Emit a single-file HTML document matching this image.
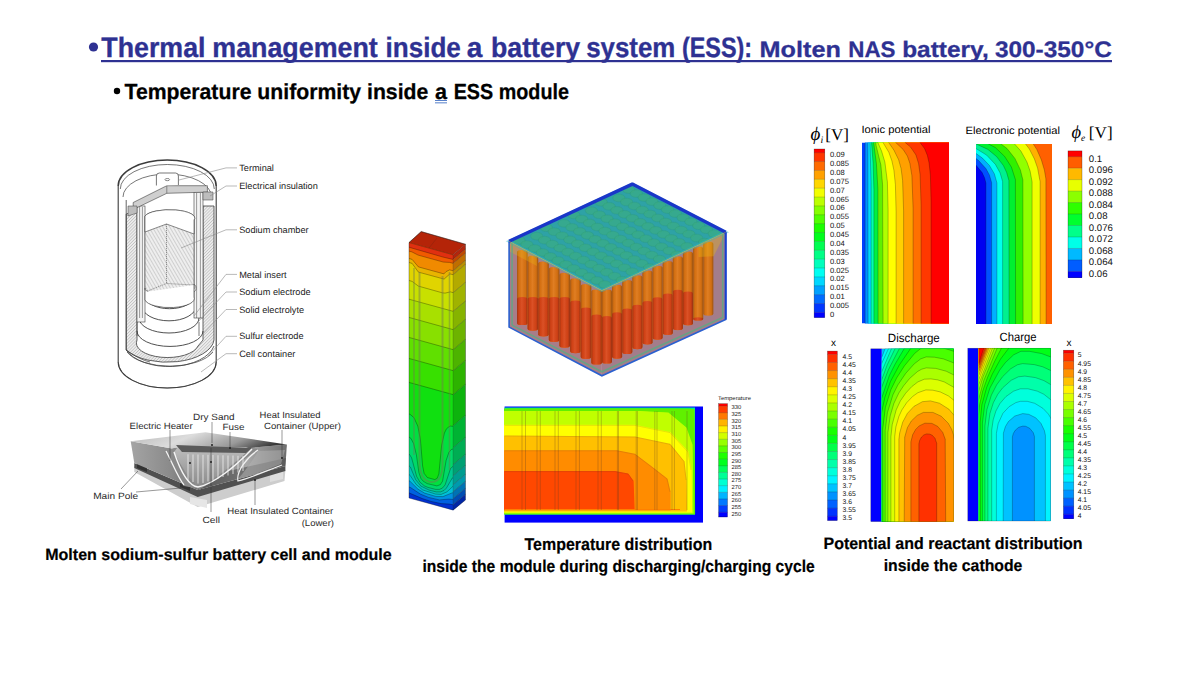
<!DOCTYPE html>
<html><head><meta charset="utf-8"><style>
html,body{margin:0;padding:0;background:#fff;overflow:hidden}
svg{display:block}
text{text-rendering:geometricPrecision}
</style></head><body>
<svg width="1181" height="690" viewBox="0 0 1181 690">
<rect width="1181" height="690" fill="#fff"/>
<circle cx="93.5" cy="47" r="4.6" fill="#2e3192"/>
<text x="101.3" y="56.8" font-family="Liberation Sans" font-size="28" font-weight="bold" font-style="normal" fill="#2e3192" text-anchor="start" textLength="104.19999999999999" lengthAdjust="spacingAndGlyphs"  stroke="#2e3192" stroke-width="0.34">Thermal</text>
<text x="212.29999999999998" y="56.8" font-family="Liberation Sans" font-size="28" font-weight="bold" font-style="normal" fill="#2e3192" text-anchor="start" textLength="165.4" lengthAdjust="spacingAndGlyphs"  stroke="#2e3192" stroke-width="0.34">management</text>
<text x="385.59999999999997" y="56.8" font-family="Liberation Sans" font-size="28" font-weight="bold" font-style="normal" fill="#2e3192" text-anchor="start" textLength="75.19999999999999" lengthAdjust="spacingAndGlyphs"  stroke="#2e3192" stroke-width="0.34">inside</text>
<text x="466.8" y="56.8" font-family="Liberation Sans" font-size="28" font-weight="bold" font-style="normal" fill="#2e3192" text-anchor="start" textLength="15.6" lengthAdjust="spacingAndGlyphs"  stroke="#2e3192" stroke-width="0.34">a</text>
<text x="491.0" y="56.8" font-family="Liberation Sans" font-size="28" font-weight="bold" font-style="normal" fill="#2e3192" text-anchor="start" textLength="89.19999999999999" lengthAdjust="spacingAndGlyphs"  stroke="#2e3192" stroke-width="0.34">battery</text>
<text x="586.2" y="56.8" font-family="Liberation Sans" font-size="28" font-weight="bold" font-style="normal" fill="#2e3192" text-anchor="start" textLength="89.19999999999999" lengthAdjust="spacingAndGlyphs"  stroke="#2e3192" stroke-width="0.34">system</text>
<text x="681.9000000000001" y="56.8" font-family="Liberation Sans" font-size="28" font-weight="bold" font-style="normal" fill="#2e3192" text-anchor="start" textLength="70.19999999999999" lengthAdjust="spacingAndGlyphs"  stroke="#2e3192" stroke-width="0.34">(ESS):</text>
<text x="759.5" y="56.8" font-family="Liberation Sans" font-size="22.4" font-weight="bold" font-style="normal" fill="#2e3192" text-anchor="start" textLength="81.4" lengthAdjust="spacingAndGlyphs"  stroke="#2e3192" stroke-width="0.27">Molten</text>
<text x="848.3" y="56.8" font-family="Liberation Sans" font-size="22.4" font-weight="bold" font-style="normal" fill="#2e3192" text-anchor="start" textLength="47.199999999999996" lengthAdjust="spacingAndGlyphs"  stroke="#2e3192" stroke-width="0.27">NAS</text>
<text x="902.1999999999999" y="56.8" font-family="Liberation Sans" font-size="22.4" font-weight="bold" font-style="normal" fill="#2e3192" text-anchor="start" textLength="86.5" lengthAdjust="spacingAndGlyphs"  stroke="#2e3192" stroke-width="0.27">battery,</text>
<text x="994.9" y="56.8" font-family="Liberation Sans" font-size="22.4" font-weight="bold" font-style="normal" fill="#2e3192" text-anchor="start" textLength="116.9" lengthAdjust="spacingAndGlyphs"  stroke="#2e3192" stroke-width="0.27">300-350°C</text>
<rect x="101" y="60" width="1011" height="2.2" fill="#2e3192"/>
<circle cx="117" cy="91" r="3.2" fill="#000"/>
<text x="124.5" y="98.7" font-family="Liberation Sans" font-size="21.8" font-weight="bold" font-style="normal" fill="#000" text-anchor="start" textLength="303.8" lengthAdjust="spacingAndGlyphs"  stroke="#000" stroke-width="0.26">Temperature uniformity inside</text>
<text x="435" y="98.7" font-family="Liberation Sans" font-size="21.8" font-weight="bold" font-style="normal" fill="#000" text-anchor="start" textLength="12" lengthAdjust="spacingAndGlyphs"  stroke="#000" stroke-width="0.26">a</text>
<text x="453.7" y="98.7" font-family="Liberation Sans" font-size="21.8" font-weight="bold" font-style="normal" fill="#000" text-anchor="start" textLength="115.3" lengthAdjust="spacingAndGlyphs"  stroke="#000" stroke-width="0.26">ESS module</text>
<rect x="435" y="100" width="12" height="0.9" fill="#4472c4"/><rect x="435" y="102.4" width="12" height="0.9" fill="#4472c4"/>
<text x="45.2" y="559.8" font-family="Liberation Sans" font-size="16.3" font-weight="bold" font-style="normal" fill="#000" text-anchor="start" textLength="346.5" lengthAdjust="spacingAndGlyphs"  stroke="#000" stroke-width="0.20">Molten sodium-sulfur battery cell and module</text>
<text x="524.5" y="549.6" font-family="Liberation Sans" font-size="17" font-weight="bold" font-style="normal" fill="#000" text-anchor="start" textLength="187.8" lengthAdjust="spacingAndGlyphs"  stroke="#000" stroke-width="0.20">Temperature distribution</text>
<text x="422.4" y="571.6" font-family="Liberation Sans" font-size="17" font-weight="bold" font-style="normal" fill="#000" text-anchor="start" textLength="392.3" lengthAdjust="spacingAndGlyphs"  stroke="#000" stroke-width="0.20">inside the module during discharging/charging cycle</text>
<text x="823.5" y="549.2" font-family="Liberation Sans" font-size="16.5" font-weight="bold" font-style="normal" fill="#000" text-anchor="start" textLength="259.1" lengthAdjust="spacingAndGlyphs"  stroke="#000" stroke-width="0.20">Potential and reactant distribution</text>
<text x="883.7" y="570.5" font-family="Liberation Sans" font-size="16.5" font-weight="bold" font-style="normal" fill="#000" text-anchor="start" textLength="138.7" lengthAdjust="spacingAndGlyphs"  stroke="#000" stroke-width="0.20">inside the cathode</text>
<rect x="814.1" y="149.00" width="10.7" height="3.90" fill="#ff0000"/>
<rect x="814.1" y="152.70" width="10.7" height="9.07" fill="#ff3600"/>
<rect x="814.1" y="161.57" width="10.7" height="9.07" fill="#ff6b00"/>
<rect x="814.1" y="170.44" width="10.7" height="9.07" fill="#ffa100"/>
<rect x="814.1" y="179.32" width="10.7" height="9.07" fill="#ffd700"/>
<rect x="814.1" y="188.19" width="10.7" height="9.07" fill="#f2ff00"/>
<rect x="814.1" y="197.06" width="10.7" height="9.07" fill="#bcff00"/>
<rect x="814.1" y="205.93" width="10.7" height="9.07" fill="#86ff00"/>
<rect x="814.1" y="214.81" width="10.7" height="9.07" fill="#51ff00"/>
<rect x="814.1" y="223.68" width="10.7" height="9.07" fill="#1bff00"/>
<rect x="814.1" y="232.55" width="10.7" height="9.07" fill="#00ff1b"/>
<rect x="814.1" y="241.42" width="10.7" height="9.07" fill="#00ff51"/>
<rect x="814.1" y="250.29" width="10.7" height="9.07" fill="#00ff86"/>
<rect x="814.1" y="259.17" width="10.7" height="9.07" fill="#00ffbc"/>
<rect x="814.1" y="268.04" width="10.7" height="9.07" fill="#00fff2"/>
<rect x="814.1" y="276.91" width="10.7" height="9.07" fill="#00d7ff"/>
<rect x="814.1" y="285.78" width="10.7" height="9.07" fill="#00a1ff"/>
<rect x="814.1" y="294.66" width="10.7" height="9.07" fill="#006bff"/>
<rect x="814.1" y="303.53" width="10.7" height="9.07" fill="#0036ff"/>
<rect x="814.1" y="312.40" width="10.7" height="5.30" fill="#0000ff"/>
<g stroke="#000" stroke-opacity="0.45" stroke-width="0.4"><line x1="814.1" x2="824.8000000000001" y1="152.70" y2="152.70"/><line x1="814.1" x2="824.8000000000001" y1="161.57" y2="161.57"/><line x1="814.1" x2="824.8000000000001" y1="170.44" y2="170.44"/><line x1="814.1" x2="824.8000000000001" y1="179.32" y2="179.32"/><line x1="814.1" x2="824.8000000000001" y1="188.19" y2="188.19"/><line x1="814.1" x2="824.8000000000001" y1="197.06" y2="197.06"/><line x1="814.1" x2="824.8000000000001" y1="205.93" y2="205.93"/><line x1="814.1" x2="824.8000000000001" y1="214.81" y2="214.81"/><line x1="814.1" x2="824.8000000000001" y1="223.68" y2="223.68"/><line x1="814.1" x2="824.8000000000001" y1="232.55" y2="232.55"/><line x1="814.1" x2="824.8000000000001" y1="241.42" y2="241.42"/><line x1="814.1" x2="824.8000000000001" y1="250.29" y2="250.29"/><line x1="814.1" x2="824.8000000000001" y1="259.17" y2="259.17"/><line x1="814.1" x2="824.8000000000001" y1="268.04" y2="268.04"/><line x1="814.1" x2="824.8000000000001" y1="276.91" y2="276.91"/><line x1="814.1" x2="824.8000000000001" y1="285.78" y2="285.78"/><line x1="814.1" x2="824.8000000000001" y1="294.66" y2="294.66"/><line x1="814.1" x2="824.8000000000001" y1="303.53" y2="303.53"/><line x1="814.1" x2="824.8000000000001" y1="312.40" y2="312.40"/></g>
<rect x="814.1" y="149" width="10.7" height="168.5" fill="none" stroke="#000" stroke-opacity="0.5" stroke-width="0.5"/>
<text x="830" y="157.24" font-family="Liberation Sans" font-size="7.6" font-weight="normal" font-style="normal" fill="#111" text-anchor="start" >0.09</text>
<text x="830" y="166.11" font-family="Liberation Sans" font-size="7.6" font-weight="normal" font-style="normal" fill="#111" text-anchor="start" >0.085</text>
<text x="830" y="174.98" font-family="Liberation Sans" font-size="7.6" font-weight="normal" font-style="normal" fill="#111" text-anchor="start" >0.08</text>
<text x="830" y="183.85" font-family="Liberation Sans" font-size="7.6" font-weight="normal" font-style="normal" fill="#111" text-anchor="start" >0.075</text>
<text x="830" y="192.72" font-family="Liberation Sans" font-size="7.6" font-weight="normal" font-style="normal" fill="#111" text-anchor="start" >0.07</text>
<text x="830" y="201.6" font-family="Liberation Sans" font-size="7.6" font-weight="normal" font-style="normal" fill="#111" text-anchor="start" >0.065</text>
<text x="830" y="210.47" font-family="Liberation Sans" font-size="7.6" font-weight="normal" font-style="normal" fill="#111" text-anchor="start" >0.06</text>
<text x="830" y="219.34" font-family="Liberation Sans" font-size="7.6" font-weight="normal" font-style="normal" fill="#111" text-anchor="start" >0.055</text>
<text x="830" y="228.21" font-family="Liberation Sans" font-size="7.6" font-weight="normal" font-style="normal" fill="#111" text-anchor="start" >0.05</text>
<text x="830" y="237.09" font-family="Liberation Sans" font-size="7.6" font-weight="normal" font-style="normal" fill="#111" text-anchor="start" >0.045</text>
<text x="830" y="245.96" font-family="Liberation Sans" font-size="7.6" font-weight="normal" font-style="normal" fill="#111" text-anchor="start" >0.04</text>
<text x="830" y="254.83" font-family="Liberation Sans" font-size="7.6" font-weight="normal" font-style="normal" fill="#111" text-anchor="start" >0.035</text>
<text x="830" y="263.7" font-family="Liberation Sans" font-size="7.6" font-weight="normal" font-style="normal" fill="#111" text-anchor="start" >0.03</text>
<text x="830" y="272.57" font-family="Liberation Sans" font-size="7.6" font-weight="normal" font-style="normal" fill="#111" text-anchor="start" >0.025</text>
<text x="830" y="281.45" font-family="Liberation Sans" font-size="7.6" font-weight="normal" font-style="normal" fill="#111" text-anchor="start" >0.02</text>
<text x="830" y="290.32" font-family="Liberation Sans" font-size="7.6" font-weight="normal" font-style="normal" fill="#111" text-anchor="start" >0.015</text>
<text x="830" y="299.19" font-family="Liberation Sans" font-size="7.6" font-weight="normal" font-style="normal" fill="#111" text-anchor="start" >0.01</text>
<text x="830" y="308.06" font-family="Liberation Sans" font-size="7.6" font-weight="normal" font-style="normal" fill="#111" text-anchor="start" >0.005</text>
<text x="830" y="316.94" font-family="Liberation Sans" font-size="7.6" font-weight="normal" font-style="normal" fill="#111" text-anchor="start" >0</text>
<text x="810.5" y="140" font-family="Liberation Serif" font-size="19" font-weight="normal" font-style="italic" fill="#000" text-anchor="start" >ϕ</text>
<text x="820.5" y="142.5" font-family="Liberation Serif" font-size="10" font-weight="normal" font-style="italic" fill="#000" text-anchor="start" >i</text>
<text x="825.3" y="140" font-family="Liberation Serif" font-size="16.5" font-weight="normal" font-style="normal" fill="#000" text-anchor="start" textLength="23.7" lengthAdjust="spacingAndGlyphs" >[V]</text>
<text x="861.5" y="133" font-family="Liberation Sans" font-size="10.5" font-weight="normal" font-style="normal" fill="#000" text-anchor="start" textLength="69" lengthAdjust="spacingAndGlyphs" >Ionic potential</text>
<clipPath id="cp1"><rect x="862" y="142.5" width="87" height="181"/></clipPath><g clip-path="url(#cp1)">
<rect x="862" y="142.5" width="87" height="181" fill="#0040ff"/>
<path d="M865.1,140.6 865.1,325.4 950.9,325.4 950.9,140.6Z" fill="#0090ff" fill-rule="evenodd"/>
<path d="M867.9,140.6 868.1,325.4 950.9,325.4 950.9,140.6Z" fill="#00d8ff" fill-rule="evenodd"/>
<path d="M869.9,140.6 871.1,182.4 871.1,325.4 950.9,325.4 950.9,140.6Z" fill="#00ffb0" fill-rule="evenodd"/>
<path d="M871.4,140.6 873.1,163.4 873.9,189.4 873.9,325.4 950.9,325.4 950.9,140.6Z" fill="#00f040" fill-rule="evenodd"/>
<path d="M873.4,140.6 876.4,163.6 877.9,188.9 878.1,325.4 950.9,325.4 950.9,140.6Z" fill="#60f000" fill-rule="evenodd"/>
<path d="M875.6,140.6 876.1,145.4 880.9,165.1 882.6,184.9 883.1,325.4 950.9,325.4 950.9,140.6Z" fill="#b0ff00" fill-rule="evenodd"/>
<path d="M877.9,140.6 877.9,142.6 881.6,151.1 884.9,162.1 887.4,181.9 888.1,209.4 888.1,325.4 950.9,325.4 950.9,140.6Z" fill="#ffff00" fill-rule="evenodd"/>
<path d="M883.1,140.6 883.1,142.6 888.9,152.4 891.9,160.9 893.9,170.1 895.4,184.6 896.1,211.9 896.1,325.4 950.9,325.4 950.9,140.6Z" fill="#ffd000" fill-rule="evenodd"/>
<path d="M888.6,140.6 888.6,142.4 893.9,150.1 898.6,159.6 901.1,168.6 902.6,180.4 903.6,210.9 903.6,325.4 950.9,325.4 950.9,140.6Z" fill="#ffa000" fill-rule="evenodd"/>
<path d="M895.6,140.6 895.6,142.4 903.1,149.4 907.4,156.1 909.9,163.4 911.9,175.6 913.1,208.6 913.1,325.4 950.9,325.4 950.9,140.6Z" fill="#ff7000" fill-rule="evenodd"/>
<path d="M905.1,140.6 905.1,142.4 910.6,147.1 915.9,154.9 918.6,163.6 920.1,174.6 921.1,205.1 921.1,325.4 950.9,325.4 950.9,140.6Z" fill="#ff3800" fill-rule="evenodd"/>
<path d="M920.1,140.6 920.1,142.6 924.6,148.6 927.4,155.4 929.1,163.1 930.4,175.1 931.1,202.1 931.1,325.4 950.9,325.4 950.9,140.6Z" fill="#ff0000" fill-rule="evenodd"/>
<g fill="none" stroke="#000" stroke-width="0.45" stroke-opacity="0.55"><path d="M865.1,140.6 865.1,325.4 950.9,325.4 950.9,140.6Z"/><path d="M867.9,140.6 868.1,325.4 950.9,325.4 950.9,140.6Z"/><path d="M869.9,140.6 871.1,182.4 871.1,325.4 950.9,325.4 950.9,140.6Z"/><path d="M871.4,140.6 873.1,163.4 873.9,189.4 873.9,325.4 950.9,325.4 950.9,140.6Z"/><path d="M873.4,140.6 876.4,163.6 877.9,188.9 878.1,325.4 950.9,325.4 950.9,140.6Z"/><path d="M875.6,140.6 876.1,145.4 880.9,165.1 882.6,184.9 883.1,325.4 950.9,325.4 950.9,140.6Z"/><path d="M877.9,140.6 877.9,142.6 881.6,151.1 884.9,162.1 887.4,181.9 888.1,209.4 888.1,325.4 950.9,325.4 950.9,140.6Z"/><path d="M883.1,140.6 883.1,142.6 888.9,152.4 891.9,160.9 893.9,170.1 895.4,184.6 896.1,211.9 896.1,325.4 950.9,325.4 950.9,140.6Z"/><path d="M888.6,140.6 888.6,142.4 893.9,150.1 898.6,159.6 901.1,168.6 902.6,180.4 903.6,210.9 903.6,325.4 950.9,325.4 950.9,140.6Z"/><path d="M895.6,140.6 895.6,142.4 903.1,149.4 907.4,156.1 909.9,163.4 911.9,175.6 913.1,208.6 913.1,325.4 950.9,325.4 950.9,140.6Z"/><path d="M905.1,140.6 905.1,142.4 910.6,147.1 915.9,154.9 918.6,163.6 920.1,174.6 921.1,205.1 921.1,325.4 950.9,325.4 950.9,140.6Z"/><path d="M920.1,140.6 920.1,142.6 924.6,148.6 927.4,155.4 929.1,163.1 930.4,175.1 931.1,202.1 931.1,325.4 950.9,325.4 950.9,140.6Z"/></g>
</g>
<text x="965.6" y="133.5" font-family="Liberation Sans" font-size="10.5" font-weight="normal" font-style="normal" fill="#000" text-anchor="start" textLength="94.4" lengthAdjust="spacingAndGlyphs" >Electronic potential</text>
<text x="1071.5" y="137.5" font-family="Liberation Serif" font-size="18.5" font-weight="normal" font-style="italic" fill="#000" text-anchor="start" >ϕ</text>
<text x="1081" y="141" font-family="Liberation Serif" font-size="9.5" font-weight="normal" font-style="italic" fill="#000" text-anchor="start" >e</text>
<text x="1088.8" y="137.5" font-family="Liberation Serif" font-size="16.5" font-weight="normal" font-style="normal" fill="#000" text-anchor="start" textLength="23.8" lengthAdjust="spacingAndGlyphs" >[V]</text>
<rect x="1068" y="150.90" width="14" height="6.00" fill="#ff0000"/>
<rect x="1068" y="156.70" width="14" height="11.67" fill="#ff5d00"/>
<rect x="1068" y="168.17" width="14" height="11.67" fill="#ffb900"/>
<rect x="1068" y="179.64" width="14" height="11.67" fill="#e8ff00"/>
<rect x="1068" y="191.11" width="14" height="11.67" fill="#8bff00"/>
<rect x="1068" y="202.58" width="14" height="11.67" fill="#2eff00"/>
<rect x="1068" y="214.05" width="14" height="11.67" fill="#00ff2e"/>
<rect x="1068" y="225.52" width="14" height="11.67" fill="#00ff8b"/>
<rect x="1068" y="236.99" width="14" height="11.67" fill="#00ffe8"/>
<rect x="1068" y="248.46" width="14" height="11.67" fill="#00b9ff"/>
<rect x="1068" y="259.93" width="14" height="11.67" fill="#005dff"/>
<rect x="1068" y="271.40" width="14" height="6.50" fill="#0000ff"/>
<g stroke="#000" stroke-opacity="0.45" stroke-width="0.4"><line x1="1068" x2="1082" y1="156.70" y2="156.70"/><line x1="1068" x2="1082" y1="168.17" y2="168.17"/><line x1="1068" x2="1082" y1="179.64" y2="179.64"/><line x1="1068" x2="1082" y1="191.11" y2="191.11"/><line x1="1068" x2="1082" y1="202.58" y2="202.58"/><line x1="1068" x2="1082" y1="214.05" y2="214.05"/><line x1="1068" x2="1082" y1="225.52" y2="225.52"/><line x1="1068" x2="1082" y1="236.99" y2="236.99"/><line x1="1068" x2="1082" y1="248.46" y2="248.46"/><line x1="1068" x2="1082" y1="259.93" y2="259.93"/><line x1="1068" x2="1082" y1="271.40" y2="271.40"/></g>
<rect x="1068" y="150.9" width="14" height="126.8" fill="none" stroke="#000" stroke-opacity="0.5" stroke-width="0.5"/>
<text x="1088.8" y="161.96" font-family="Liberation Sans" font-size="9.6" font-weight="normal" font-style="normal" fill="#111" text-anchor="start" >0.1</text>
<text x="1088.8" y="173.43" font-family="Liberation Sans" font-size="9.6" font-weight="normal" font-style="normal" fill="#111" text-anchor="start" >0.096</text>
<text x="1088.8" y="184.9" font-family="Liberation Sans" font-size="9.6" font-weight="normal" font-style="normal" fill="#111" text-anchor="start" >0.092</text>
<text x="1088.8" y="196.37" font-family="Liberation Sans" font-size="9.6" font-weight="normal" font-style="normal" fill="#111" text-anchor="start" >0.088</text>
<text x="1088.8" y="207.84" font-family="Liberation Sans" font-size="9.6" font-weight="normal" font-style="normal" fill="#111" text-anchor="start" >0.084</text>
<text x="1088.8" y="219.31" font-family="Liberation Sans" font-size="9.6" font-weight="normal" font-style="normal" fill="#111" text-anchor="start" >0.08</text>
<text x="1088.8" y="230.78" font-family="Liberation Sans" font-size="9.6" font-weight="normal" font-style="normal" fill="#111" text-anchor="start" >0.076</text>
<text x="1088.8" y="242.25" font-family="Liberation Sans" font-size="9.6" font-weight="normal" font-style="normal" fill="#111" text-anchor="start" >0.072</text>
<text x="1088.8" y="253.72" font-family="Liberation Sans" font-size="9.6" font-weight="normal" font-style="normal" fill="#111" text-anchor="start" >0.068</text>
<text x="1088.8" y="265.19" font-family="Liberation Sans" font-size="9.6" font-weight="normal" font-style="normal" fill="#111" text-anchor="start" >0.064</text>
<text x="1088.8" y="276.66" font-family="Liberation Sans" font-size="9.6" font-weight="normal" font-style="normal" fill="#111" text-anchor="start" >0.06</text>
<clipPath id="cp2"><rect x="976" y="144" width="76" height="180"/></clipPath><g clip-path="url(#cp2)">
<rect x="976" y="144" width="76" height="180" fill="#0000f0"/>
<path d="M974.1,142.1 974.1,162.9 982.1,172.6 984.6,177.9 985.9,183.1 985.9,325.9 1053.9,325.9 1053.9,142.1Z" fill="#0050ff" fill-rule="evenodd"/>
<path d="M974.1,142.1 974.1,156.9 978.6,160.6 985.9,168.6 989.4,174.9 991.6,182.6 991.6,325.9 1053.9,325.9 1053.9,142.1Z" fill="#00b0ff" fill-rule="evenodd"/>
<path d="M974.1,142.1 974.1,152.1 982.4,158.1 989.4,165.4 994.4,173.9 996.9,182.9 996.9,325.9 1053.9,325.9 1053.9,142.1Z" fill="#00ffee" fill-rule="evenodd"/>
<path d="M974.1,142.1 974.1,147.4 986.6,155.1 995.4,164.4 1000.1,172.9 1002.6,181.6 1002.6,325.9 1053.9,325.9 1053.9,142.1Z" fill="#00f090" fill-rule="evenodd"/>
<path d="M974.1,142.1 975.9,143.9 987.9,149.4 996.6,156.6 1003.4,165.6 1006.6,172.4 1008.9,180.4 1009.1,325.9 1053.9,325.9 1053.9,142.1Z" fill="#00f030" fill-rule="evenodd"/>
<path d="M985.1,142.1 995.4,147.6 1004.6,156.4 1011.4,167.1 1015.4,179.6 1015.6,325.9 1053.9,325.9 1053.9,142.1Z" fill="#30f000" fill-rule="evenodd"/>
<path d="M998.6,142.1 1007.1,148.6 1014.9,158.4 1020.4,169.9 1022.9,179.9 1023.1,325.9 1053.9,325.9 1053.9,142.1Z" fill="#90ff00" fill-rule="evenodd"/>
<path d="M1012.9,142.1 1020.9,151.1 1026.9,161.9 1030.1,171.1 1032.1,181.9 1032.1,325.9 1053.9,325.9 1053.9,142.1Z" fill="#f0ff00" fill-rule="evenodd"/>
<path d="M1024.1,142.1 1029.4,149.1 1034.4,158.9 1037.6,168.1 1040.1,181.6 1040.1,325.9 1053.9,325.9 1053.9,142.1Z" fill="#ffb000" fill-rule="evenodd"/>
<path d="M1032.1,142.1 1036.9,149.6 1041.4,159.9 1044.4,170.1 1045.9,178.9 1046.1,325.9 1053.9,325.9 1053.9,142.1Z" fill="#ff6000" fill-rule="evenodd"/>
<g fill="none" stroke="#000" stroke-width="0.45" stroke-opacity="0.55"><path d="M974.1,142.1 974.1,162.9 982.1,172.6 984.6,177.9 985.9,183.1 985.9,325.9 1053.9,325.9 1053.9,142.1Z"/><path d="M974.1,142.1 974.1,156.9 978.6,160.6 985.9,168.6 989.4,174.9 991.6,182.6 991.6,325.9 1053.9,325.9 1053.9,142.1Z"/><path d="M974.1,142.1 974.1,152.1 982.4,158.1 989.4,165.4 994.4,173.9 996.9,182.9 996.9,325.9 1053.9,325.9 1053.9,142.1Z"/><path d="M974.1,142.1 974.1,147.4 986.6,155.1 995.4,164.4 1000.1,172.9 1002.6,181.6 1002.6,325.9 1053.9,325.9 1053.9,142.1Z"/><path d="M974.1,142.1 975.9,143.9 987.9,149.4 996.6,156.6 1003.4,165.6 1006.6,172.4 1008.9,180.4 1009.1,325.9 1053.9,325.9 1053.9,142.1Z"/><path d="M985.1,142.1 995.4,147.6 1004.6,156.4 1011.4,167.1 1015.4,179.6 1015.6,325.9 1053.9,325.9 1053.9,142.1Z"/><path d="M998.6,142.1 1007.1,148.6 1014.9,158.4 1020.4,169.9 1022.9,179.9 1023.1,325.9 1053.9,325.9 1053.9,142.1Z"/><path d="M1012.9,142.1 1020.9,151.1 1026.9,161.9 1030.1,171.1 1032.1,181.9 1032.1,325.9 1053.9,325.9 1053.9,142.1Z"/><path d="M1024.1,142.1 1029.4,149.1 1034.4,158.9 1037.6,168.1 1040.1,181.6 1040.1,325.9 1053.9,325.9 1053.9,142.1Z"/><path d="M1032.1,142.1 1036.9,149.6 1041.4,159.9 1044.4,170.1 1045.9,178.9 1046.1,325.9 1053.9,325.9 1053.9,142.1Z"/></g>
</g>
<rect x="827.5" y="351.10" width="9.8" height="3.50" fill="#ff0000"/>
<rect x="827.5" y="354.40" width="9.8" height="8.29" fill="#ff3100"/>
<rect x="827.5" y="362.49" width="9.8" height="8.29" fill="#ff6100"/>
<rect x="827.5" y="370.58" width="9.8" height="8.29" fill="#ff9200"/>
<rect x="827.5" y="378.67" width="9.8" height="8.29" fill="#ffc200"/>
<rect x="827.5" y="386.76" width="9.8" height="8.29" fill="#fff300"/>
<rect x="827.5" y="394.85" width="9.8" height="8.29" fill="#dbff00"/>
<rect x="827.5" y="402.94" width="9.8" height="8.29" fill="#aaff00"/>
<rect x="827.5" y="411.03" width="9.8" height="8.29" fill="#79ff00"/>
<rect x="827.5" y="419.12" width="9.8" height="8.29" fill="#49ff00"/>
<rect x="827.5" y="427.21" width="9.8" height="8.29" fill="#18ff00"/>
<rect x="827.5" y="435.30" width="9.8" height="8.29" fill="#00ff18"/>
<rect x="827.5" y="443.39" width="9.8" height="8.29" fill="#00ff49"/>
<rect x="827.5" y="451.48" width="9.8" height="8.29" fill="#00ff79"/>
<rect x="827.5" y="459.57" width="9.8" height="8.29" fill="#00ffaa"/>
<rect x="827.5" y="467.66" width="9.8" height="8.29" fill="#00ffdb"/>
<rect x="827.5" y="475.75" width="9.8" height="8.29" fill="#00f3ff"/>
<rect x="827.5" y="483.84" width="9.8" height="8.29" fill="#00c2ff"/>
<rect x="827.5" y="491.93" width="9.8" height="8.29" fill="#0092ff"/>
<rect x="827.5" y="500.02" width="9.8" height="8.29" fill="#0061ff"/>
<rect x="827.5" y="508.11" width="9.8" height="8.29" fill="#0031ff"/>
<rect x="827.5" y="516.20" width="9.8" height="4.40" fill="#0000ff"/>
<g stroke="#000" stroke-opacity="0.45" stroke-width="0.4"><line x1="827.5" x2="837.3" y1="354.40" y2="354.40"/><line x1="827.5" x2="837.3" y1="362.49" y2="362.49"/><line x1="827.5" x2="837.3" y1="370.58" y2="370.58"/><line x1="827.5" x2="837.3" y1="378.67" y2="378.67"/><line x1="827.5" x2="837.3" y1="386.76" y2="386.76"/><line x1="827.5" x2="837.3" y1="394.85" y2="394.85"/><line x1="827.5" x2="837.3" y1="402.94" y2="402.94"/><line x1="827.5" x2="837.3" y1="411.03" y2="411.03"/><line x1="827.5" x2="837.3" y1="419.12" y2="419.12"/><line x1="827.5" x2="837.3" y1="427.21" y2="427.21"/><line x1="827.5" x2="837.3" y1="435.30" y2="435.30"/><line x1="827.5" x2="837.3" y1="443.39" y2="443.39"/><line x1="827.5" x2="837.3" y1="451.48" y2="451.48"/><line x1="827.5" x2="837.3" y1="459.57" y2="459.57"/><line x1="827.5" x2="837.3" y1="467.66" y2="467.66"/><line x1="827.5" x2="837.3" y1="475.75" y2="475.75"/><line x1="827.5" x2="837.3" y1="483.84" y2="483.84"/><line x1="827.5" x2="837.3" y1="491.93" y2="491.93"/><line x1="827.5" x2="837.3" y1="500.02" y2="500.02"/><line x1="827.5" x2="837.3" y1="508.11" y2="508.11"/><line x1="827.5" x2="837.3" y1="516.20" y2="516.20"/></g>
<rect x="827.5" y="351.1" width="9.8" height="169.3" fill="none" stroke="#000" stroke-opacity="0.5" stroke-width="0.5"/>
<text x="842.6" y="358.65" font-family="Liberation Sans" font-size="6.8" font-weight="normal" font-style="normal" fill="#111" text-anchor="start" >4.5</text>
<text x="842.6" y="366.74" font-family="Liberation Sans" font-size="6.8" font-weight="normal" font-style="normal" fill="#111" text-anchor="start" >4.45</text>
<text x="842.6" y="374.83" font-family="Liberation Sans" font-size="6.8" font-weight="normal" font-style="normal" fill="#111" text-anchor="start" >4.4</text>
<text x="842.6" y="382.92" font-family="Liberation Sans" font-size="6.8" font-weight="normal" font-style="normal" fill="#111" text-anchor="start" >4.35</text>
<text x="842.6" y="391.01" font-family="Liberation Sans" font-size="6.8" font-weight="normal" font-style="normal" fill="#111" text-anchor="start" >4.3</text>
<text x="842.6" y="399.1" font-family="Liberation Sans" font-size="6.8" font-weight="normal" font-style="normal" fill="#111" text-anchor="start" >4.25</text>
<text x="842.6" y="407.19" font-family="Liberation Sans" font-size="6.8" font-weight="normal" font-style="normal" fill="#111" text-anchor="start" >4.2</text>
<text x="842.6" y="415.28" font-family="Liberation Sans" font-size="6.8" font-weight="normal" font-style="normal" fill="#111" text-anchor="start" >4.15</text>
<text x="842.6" y="423.37" font-family="Liberation Sans" font-size="6.8" font-weight="normal" font-style="normal" fill="#111" text-anchor="start" >4.1</text>
<text x="842.6" y="431.46" font-family="Liberation Sans" font-size="6.8" font-weight="normal" font-style="normal" fill="#111" text-anchor="start" >4.05</text>
<text x="842.6" y="439.55" font-family="Liberation Sans" font-size="6.8" font-weight="normal" font-style="normal" fill="#111" text-anchor="start" >4</text>
<text x="842.6" y="447.64" font-family="Liberation Sans" font-size="6.8" font-weight="normal" font-style="normal" fill="#111" text-anchor="start" >3.95</text>
<text x="842.6" y="455.73" font-family="Liberation Sans" font-size="6.8" font-weight="normal" font-style="normal" fill="#111" text-anchor="start" >3.9</text>
<text x="842.6" y="463.82" font-family="Liberation Sans" font-size="6.8" font-weight="normal" font-style="normal" fill="#111" text-anchor="start" >3.85</text>
<text x="842.6" y="471.91" font-family="Liberation Sans" font-size="6.8" font-weight="normal" font-style="normal" fill="#111" text-anchor="start" >3.8</text>
<text x="842.6" y="480.0" font-family="Liberation Sans" font-size="6.8" font-weight="normal" font-style="normal" fill="#111" text-anchor="start" >3.75</text>
<text x="842.6" y="488.09" font-family="Liberation Sans" font-size="6.8" font-weight="normal" font-style="normal" fill="#111" text-anchor="start" >3.7</text>
<text x="842.6" y="496.18" font-family="Liberation Sans" font-size="6.8" font-weight="normal" font-style="normal" fill="#111" text-anchor="start" >3.65</text>
<text x="842.6" y="504.27" font-family="Liberation Sans" font-size="6.8" font-weight="normal" font-style="normal" fill="#111" text-anchor="start" >3.6</text>
<text x="842.6" y="512.36" font-family="Liberation Sans" font-size="6.8" font-weight="normal" font-style="normal" fill="#111" text-anchor="start" >3.55</text>
<text x="842.6" y="520.45" font-family="Liberation Sans" font-size="6.8" font-weight="normal" font-style="normal" fill="#111" text-anchor="start" >3.5</text>
<text x="831" y="346" font-family="Liberation Sans" font-size="10" font-weight="normal" font-style="normal" fill="#000" text-anchor="start" >x</text>
<rect x="1063.4" y="350.20" width="10.4" height="3.20" fill="#ff0000"/>
<rect x="1063.4" y="353.20" width="10.4" height="8.25" fill="#ff3100"/>
<rect x="1063.4" y="361.25" width="10.4" height="8.25" fill="#ff6100"/>
<rect x="1063.4" y="369.30" width="10.4" height="8.25" fill="#ff9200"/>
<rect x="1063.4" y="377.35" width="10.4" height="8.25" fill="#ffc200"/>
<rect x="1063.4" y="385.40" width="10.4" height="8.25" fill="#fff300"/>
<rect x="1063.4" y="393.45" width="10.4" height="8.25" fill="#dbff00"/>
<rect x="1063.4" y="401.50" width="10.4" height="8.25" fill="#aaff00"/>
<rect x="1063.4" y="409.55" width="10.4" height="8.25" fill="#79ff00"/>
<rect x="1063.4" y="417.60" width="10.4" height="8.25" fill="#49ff00"/>
<rect x="1063.4" y="425.65" width="10.4" height="8.25" fill="#18ff00"/>
<rect x="1063.4" y="433.70" width="10.4" height="8.25" fill="#00ff18"/>
<rect x="1063.4" y="441.75" width="10.4" height="8.25" fill="#00ff49"/>
<rect x="1063.4" y="449.80" width="10.4" height="8.25" fill="#00ff79"/>
<rect x="1063.4" y="457.85" width="10.4" height="8.25" fill="#00ffaa"/>
<rect x="1063.4" y="465.90" width="10.4" height="8.25" fill="#00ffdb"/>
<rect x="1063.4" y="473.95" width="10.4" height="8.25" fill="#00f3ff"/>
<rect x="1063.4" y="482.00" width="10.4" height="8.25" fill="#00c2ff"/>
<rect x="1063.4" y="490.05" width="10.4" height="8.25" fill="#0092ff"/>
<rect x="1063.4" y="498.10" width="10.4" height="8.25" fill="#0061ff"/>
<rect x="1063.4" y="506.15" width="10.4" height="8.25" fill="#0031ff"/>
<rect x="1063.4" y="514.20" width="10.4" height="4.70" fill="#0000ff"/>
<g stroke="#000" stroke-opacity="0.45" stroke-width="0.4"><line x1="1063.4" x2="1073.8000000000002" y1="353.20" y2="353.20"/><line x1="1063.4" x2="1073.8000000000002" y1="361.25" y2="361.25"/><line x1="1063.4" x2="1073.8000000000002" y1="369.30" y2="369.30"/><line x1="1063.4" x2="1073.8000000000002" y1="377.35" y2="377.35"/><line x1="1063.4" x2="1073.8000000000002" y1="385.40" y2="385.40"/><line x1="1063.4" x2="1073.8000000000002" y1="393.45" y2="393.45"/><line x1="1063.4" x2="1073.8000000000002" y1="401.50" y2="401.50"/><line x1="1063.4" x2="1073.8000000000002" y1="409.55" y2="409.55"/><line x1="1063.4" x2="1073.8000000000002" y1="417.60" y2="417.60"/><line x1="1063.4" x2="1073.8000000000002" y1="425.65" y2="425.65"/><line x1="1063.4" x2="1073.8000000000002" y1="433.70" y2="433.70"/><line x1="1063.4" x2="1073.8000000000002" y1="441.75" y2="441.75"/><line x1="1063.4" x2="1073.8000000000002" y1="449.80" y2="449.80"/><line x1="1063.4" x2="1073.8000000000002" y1="457.85" y2="457.85"/><line x1="1063.4" x2="1073.8000000000002" y1="465.90" y2="465.90"/><line x1="1063.4" x2="1073.8000000000002" y1="473.95" y2="473.95"/><line x1="1063.4" x2="1073.8000000000002" y1="482.00" y2="482.00"/><line x1="1063.4" x2="1073.8000000000002" y1="490.05" y2="490.05"/><line x1="1063.4" x2="1073.8000000000002" y1="498.10" y2="498.10"/><line x1="1063.4" x2="1073.8000000000002" y1="506.15" y2="506.15"/><line x1="1063.4" x2="1073.8000000000002" y1="514.20" y2="514.20"/></g>
<rect x="1063.4" y="350.2" width="10.4" height="168.5" fill="none" stroke="#000" stroke-opacity="0.5" stroke-width="0.5"/>
<text x="1077.7" y="357.45" font-family="Liberation Sans" font-size="6.8" font-weight="normal" font-style="normal" fill="#111" text-anchor="start" >5</text>
<text x="1077.7" y="365.5" font-family="Liberation Sans" font-size="6.8" font-weight="normal" font-style="normal" fill="#111" text-anchor="start" >4.95</text>
<text x="1077.7" y="373.55" font-family="Liberation Sans" font-size="6.8" font-weight="normal" font-style="normal" fill="#111" text-anchor="start" >4.9</text>
<text x="1077.7" y="381.6" font-family="Liberation Sans" font-size="6.8" font-weight="normal" font-style="normal" fill="#111" text-anchor="start" >4.85</text>
<text x="1077.7" y="389.65" font-family="Liberation Sans" font-size="6.8" font-weight="normal" font-style="normal" fill="#111" text-anchor="start" >4.8</text>
<text x="1077.7" y="397.7" font-family="Liberation Sans" font-size="6.8" font-weight="normal" font-style="normal" fill="#111" text-anchor="start" >4.75</text>
<text x="1077.7" y="405.75" font-family="Liberation Sans" font-size="6.8" font-weight="normal" font-style="normal" fill="#111" text-anchor="start" >4.7</text>
<text x="1077.7" y="413.8" font-family="Liberation Sans" font-size="6.8" font-weight="normal" font-style="normal" fill="#111" text-anchor="start" >4.65</text>
<text x="1077.7" y="421.85" font-family="Liberation Sans" font-size="6.8" font-weight="normal" font-style="normal" fill="#111" text-anchor="start" >4.6</text>
<text x="1077.7" y="429.9" font-family="Liberation Sans" font-size="6.8" font-weight="normal" font-style="normal" fill="#111" text-anchor="start" >4.55</text>
<text x="1077.7" y="437.95" font-family="Liberation Sans" font-size="6.8" font-weight="normal" font-style="normal" fill="#111" text-anchor="start" >4.5</text>
<text x="1077.7" y="446.0" font-family="Liberation Sans" font-size="6.8" font-weight="normal" font-style="normal" fill="#111" text-anchor="start" >4.45</text>
<text x="1077.7" y="454.05" font-family="Liberation Sans" font-size="6.8" font-weight="normal" font-style="normal" fill="#111" text-anchor="start" >4.4</text>
<text x="1077.7" y="462.1" font-family="Liberation Sans" font-size="6.8" font-weight="normal" font-style="normal" fill="#111" text-anchor="start" >4.35</text>
<text x="1077.7" y="470.15" font-family="Liberation Sans" font-size="6.8" font-weight="normal" font-style="normal" fill="#111" text-anchor="start" >4.3</text>
<text x="1077.7" y="478.2" font-family="Liberation Sans" font-size="6.8" font-weight="normal" font-style="normal" fill="#111" text-anchor="start" >4.25</text>
<text x="1077.7" y="486.25" font-family="Liberation Sans" font-size="6.8" font-weight="normal" font-style="normal" fill="#111" text-anchor="start" >4.2</text>
<text x="1077.7" y="494.3" font-family="Liberation Sans" font-size="6.8" font-weight="normal" font-style="normal" fill="#111" text-anchor="start" >4.15</text>
<text x="1077.7" y="502.35" font-family="Liberation Sans" font-size="6.8" font-weight="normal" font-style="normal" fill="#111" text-anchor="start" >4.1</text>
<text x="1077.7" y="510.4" font-family="Liberation Sans" font-size="6.8" font-weight="normal" font-style="normal" fill="#111" text-anchor="start" >4.05</text>
<text x="1077.7" y="518.45" font-family="Liberation Sans" font-size="6.8" font-weight="normal" font-style="normal" fill="#111" text-anchor="start" >4</text>
<text x="1066.5" y="346" font-family="Liberation Sans" font-size="10" font-weight="normal" font-style="normal" fill="#000" text-anchor="start" >x</text>
<text x="887.8" y="341.5" font-family="Liberation Sans" font-size="12" font-weight="normal" font-style="normal" fill="#000" text-anchor="start" textLength="52" lengthAdjust="spacingAndGlyphs" >Discharge</text>
<text x="999.6" y="341" font-family="Liberation Sans" font-size="12" font-weight="normal" font-style="normal" fill="#000" text-anchor="start" textLength="37" lengthAdjust="spacingAndGlyphs" >Charge</text>
<rect x="870.8" y="348.8" width="11" height="172.8" fill="#0000ff"/>
<clipPath id="cp3"><rect x="881.8" y="348.8" width="71.9" height="172.8"/></clipPath><g clip-path="url(#cp3)">
<rect x="881.8" y="348.8" width="71.9" height="172.8" fill="#00c2ff"/>
<path d="M885.7,346.9 882.4,355.9 879.9,360.2 879.9,523.4 955.7,523.4 955.7,346.9Z" fill="#00f3ff" fill-rule="evenodd"/>
<path d="M888.7,346.9 888.4,348.9 879.9,367.2 879.9,523.4 955.7,523.4 955.7,346.9Z" fill="#00ffdb" fill-rule="evenodd"/>
<path d="M892.2,346.9 881.9,371.2 879.9,374.4 879.9,523.4 955.7,523.4 955.7,346.9Z" fill="#00ffaa" fill-rule="evenodd"/>
<path d="M895.9,346.9 887.4,364.4 881.9,379.2 879.9,382.7 879.9,523.4 955.7,523.4 955.7,346.9Z" fill="#00ff79" fill-rule="evenodd"/>
<path d="M900.2,346.9 888.4,369.7 879.9,391.9 879.9,523.4 955.7,523.4 955.7,346.9Z" fill="#00ff49" fill-rule="evenodd"/>
<path d="M905.2,346.9 895.2,363.9 889.4,375.4 879.9,403.2 879.9,523.4 955.7,523.4 955.7,346.9Z" fill="#00ff18" fill-rule="evenodd"/>
<path d="M911.7,346.9 899.2,365.2 890.4,381.7 884.9,397.2 879.9,420.2 879.9,523.4 955.7,523.4 955.7,346.9Z" fill="#18ff00" fill-rule="evenodd"/>
<path d="M939.9,346.9 922.4,347.2 914.7,353.4 904.4,365.9 896.7,377.9 890.9,389.7 885.4,407.4 882.7,429.2 882.9,523.4 955.7,523.4 955.7,351.9Z" fill="#49ff00" fill-rule="evenodd"/>
<path d="M943.4,358.9 934.4,357.2 926.2,356.9 920.7,358.9 914.2,363.9 905.7,373.4 897.9,384.9 892.9,394.9 887.4,412.7 885.2,430.4 885.2,523.4 955.7,523.4 955.7,363.7Z" fill="#79ff00" fill-rule="evenodd"/>
<path d="M946.2,371.2 935.7,368.4 926.2,367.9 921.7,369.2 917.7,371.4 909.7,378.4 903.7,385.7 898.9,392.9 893.9,403.4 890.2,415.9 887.9,432.4 887.9,523.4 955.7,523.4 955.7,375.9Z" fill="#aaff00" fill-rule="evenodd"/>
<path d="M944.2,381.9 937.7,379.9 930.9,378.9 924.4,379.2 917.9,381.9 911.7,386.7 905.7,393.2 900.4,400.9 896.2,409.9 892.2,424.7 890.9,436.9 890.9,523.4 955.7,523.4 955.7,388.4Z" fill="#dbff00" fill-rule="evenodd"/>
<path d="M940.2,391.9 932.9,390.2 925.9,389.9 917.9,392.7 912.7,396.4 906.7,402.7 901.9,409.9 898.9,416.4 895.9,426.9 894.7,436.4 894.7,523.4 955.7,523.4 955.7,401.7 948.4,395.9Z" fill="#fff300" fill-rule="evenodd"/>
<path d="M922.4,401.7 913.9,406.4 907.4,413.4 902.7,422.2 899.7,432.9 898.9,439.4 898.9,523.4 955.7,523.4 955.7,417.2 948.9,409.2 939.4,403.2 930.4,400.9Z" fill="#ffc200" fill-rule="evenodd"/>
<path d="M923.4,412.4 917.2,415.4 911.4,420.9 907.4,427.7 904.7,437.2 904.2,523.4 954.7,523.4 954.7,441.7 953.4,434.4 951.7,429.4 948.2,423.2 941.2,416.2 932.9,412.4Z" fill="#ff9200" fill-rule="evenodd"/>
<path d="M924.9,423.2 919.2,425.9 915.7,429.4 912.7,434.7 910.9,441.9 910.9,523.4 945.7,523.4 945.2,439.2 942.7,432.4 937.7,426.4 931.9,423.4Z" fill="#ff6100" fill-rule="evenodd"/>
<path d="M926.7,433.9 923.9,434.9 921.4,437.2 919.7,440.4 918.9,443.9 918.9,523.4 936.7,523.4 936.7,443.2 934.9,438.2 932.4,435.4 929.9,434.2Z" fill="#ff3100" fill-rule="evenodd"/>
<g fill="none" stroke="#000" stroke-width="0.45" stroke-opacity="0.55"><path d="M885.7,346.9 882.4,355.9 879.9,360.2 879.9,523.4 955.7,523.4 955.7,346.9Z"/><path d="M888.7,346.9 888.4,348.9 879.9,367.2 879.9,523.4 955.7,523.4 955.7,346.9Z"/><path d="M892.2,346.9 881.9,371.2 879.9,374.4 879.9,523.4 955.7,523.4 955.7,346.9Z"/><path d="M895.9,346.9 887.4,364.4 881.9,379.2 879.9,382.7 879.9,523.4 955.7,523.4 955.7,346.9Z"/><path d="M900.2,346.9 888.4,369.7 879.9,391.9 879.9,523.4 955.7,523.4 955.7,346.9Z"/><path d="M905.2,346.9 895.2,363.9 889.4,375.4 879.9,403.2 879.9,523.4 955.7,523.4 955.7,346.9Z"/><path d="M911.7,346.9 899.2,365.2 890.4,381.7 884.9,397.2 879.9,420.2 879.9,523.4 955.7,523.4 955.7,346.9Z"/><path d="M939.9,346.9 922.4,347.2 914.7,353.4 904.4,365.9 896.7,377.9 890.9,389.7 885.4,407.4 882.7,429.2 882.9,523.4 955.7,523.4 955.7,351.9Z"/><path d="M943.4,358.9 934.4,357.2 926.2,356.9 920.7,358.9 914.2,363.9 905.7,373.4 897.9,384.9 892.9,394.9 887.4,412.7 885.2,430.4 885.2,523.4 955.7,523.4 955.7,363.7Z"/><path d="M946.2,371.2 935.7,368.4 926.2,367.9 921.7,369.2 917.7,371.4 909.7,378.4 903.7,385.7 898.9,392.9 893.9,403.4 890.2,415.9 887.9,432.4 887.9,523.4 955.7,523.4 955.7,375.9Z"/><path d="M944.2,381.9 937.7,379.9 930.9,378.9 924.4,379.2 917.9,381.9 911.7,386.7 905.7,393.2 900.4,400.9 896.2,409.9 892.2,424.7 890.9,436.9 890.9,523.4 955.7,523.4 955.7,388.4Z"/><path d="M940.2,391.9 932.9,390.2 925.9,389.9 917.9,392.7 912.7,396.4 906.7,402.7 901.9,409.9 898.9,416.4 895.9,426.9 894.7,436.4 894.7,523.4 955.7,523.4 955.7,401.7 948.4,395.9Z"/><path d="M922.4,401.7 913.9,406.4 907.4,413.4 902.7,422.2 899.7,432.9 898.9,439.4 898.9,523.4 955.7,523.4 955.7,417.2 948.9,409.2 939.4,403.2 930.4,400.9Z"/><path d="M923.4,412.4 917.2,415.4 911.4,420.9 907.4,427.7 904.7,437.2 904.2,523.4 954.7,523.4 954.7,441.7 953.4,434.4 951.7,429.4 948.2,423.2 941.2,416.2 932.9,412.4Z"/><path d="M924.9,423.2 919.2,425.9 915.7,429.4 912.7,434.7 910.9,441.9 910.9,523.4 945.7,523.4 945.2,439.2 942.7,432.4 937.7,426.4 931.9,423.4Z"/><path d="M926.7,433.9 923.9,434.9 921.4,437.2 919.7,440.4 918.9,443.9 918.9,523.4 936.7,523.4 936.7,443.2 934.9,438.2 932.4,435.4 929.9,434.2Z"/></g>
</g>
<rect x="870.8" y="348.8" width="82.9" height="172.8" fill="none" stroke="#000" stroke-opacity="0.4" stroke-width="0.5"/>
<rect x="967.8" y="348.2" width="11" height="172.8" fill="#0000ff"/>
<clipPath id="cp4"><rect x="978.8" y="348.2" width="71.8" height="172.8"/></clipPath><g clip-path="url(#cp4)">
<rect x="978.8" y="348.2" width="71.8" height="172.8" fill="#0092ff"/>
<path d="M976.9,346.3 976.9,522.8 1012.4,522.8 1012.4,436.8 1013.4,433.3 1015.4,430.1 1018.7,427.3 1022.9,426.1 1025.7,426.3 1029.7,428.3 1033.2,432.6 1034.4,436.3 1034.4,522.8 1052.4,522.8 1052.4,346.3Z" fill="#00c2ff" fill-rule="evenodd"/>
<path d="M976.9,346.3 976.9,522.8 1003.2,522.8 1003.4,433.1 1005.4,426.6 1008.4,421.6 1014.7,416.1 1022.7,413.6 1028.7,414.3 1035.7,417.8 1040.9,423.3 1044.4,430.6 1045.4,435.3 1045.4,522.8 1052.4,522.8 1052.4,346.3Z" fill="#00f3ff" fill-rule="evenodd"/>
<path d="M1052.4,346.3 976.9,346.3 976.9,522.8 996.4,522.8 996.4,433.3 998.2,423.6 1002.9,413.3 1009.2,406.6 1015.9,402.6 1020.4,401.3 1027.2,401.3 1034.7,403.3 1042.9,408.3 1048.4,414.1 1052.4,420.8Z" fill="#00ffdb" fill-rule="evenodd"/>
<path d="M1052.4,346.3 976.9,346.3 976.9,522.8 991.7,522.8 991.7,430.1 993.2,419.8 995.9,411.1 999.9,403.6 1005.9,396.6 1013.7,391.1 1020.4,388.8 1027.9,388.8 1037.2,391.1 1043.9,394.3 1052.4,401.1Z" fill="#00ffaa" fill-rule="evenodd"/>
<path d="M1052.4,346.3 976.9,346.3 976.9,522.8 987.9,522.8 987.9,428.3 989.9,413.6 993.4,402.6 997.9,394.1 1002.7,387.8 1011.2,380.3 1018.4,376.8 1024.9,376.1 1035.4,377.6 1043.9,380.6 1052.4,385.6Z" fill="#00ff79" fill-rule="evenodd"/>
<path d="M1052.4,346.3 976.9,346.3 976.9,522.8 984.9,522.8 984.9,426.1 986.9,409.6 991.4,395.1 996.7,384.8 1002.7,376.6 1010.7,368.8 1017.4,364.8 1022.7,363.6 1034.2,364.6 1042.7,366.8 1052.4,371.3Z" fill="#00ff49" fill-rule="evenodd"/>
<path d="M1052.4,346.3 976.9,346.3 976.9,522.8 982.4,522.8 982.4,423.1 984.7,404.8 989.9,388.1 999.7,370.1 1005.4,362.6 1013.7,354.8 1020.9,351.3 1029.4,351.3 1041.7,353.6 1052.4,357.6Z" fill="#00ff18" fill-rule="evenodd"/>
<path d="M1010.2,346.3 976.9,346.3 976.9,522.8 980.4,522.8 980.2,422.1 981.9,404.8 986.7,387.3 992.2,374.3 1000.4,359.3Z" fill="#18ff00" fill-rule="evenodd"/>
<path d="M1002.4,346.3 976.9,346.3 976.9,522.8 978.2,522.8 978.2,437.1 977.4,423.1 979.7,404.3 982.7,391.1 987.4,377.6 994.4,361.8Z" fill="#49ff00" fill-rule="evenodd"/>
<path d="M997.9,346.3 976.9,346.3 976.9,403.1 978.9,398.3 983.7,380.8Z" fill="#79ff00" fill-rule="evenodd"/>
<path d="M994.7,346.3 976.9,346.3 976.9,393.6 978.7,390.8 982.9,377.1 994.4,348.6Z" fill="#aaff00" fill-rule="evenodd"/>
<path d="M992.4,346.3 976.9,346.3 976.9,386.8 978.9,384.1 992.2,348.6Z" fill="#dbff00" fill-rule="evenodd"/>
<path d="M990.4,346.3 976.9,346.3 976.9,381.8 978.9,379.3 990.2,349.1Z" fill="#fff300" fill-rule="evenodd"/>
<path d="M988.9,346.3 976.9,346.3 976.9,377.6 979.2,374.6 988.2,350.3Z" fill="#ffc200" fill-rule="evenodd"/>
<path d="M987.7,346.3 976.9,346.3 976.9,373.8 979.4,370.3 986.9,350.1Z" fill="#ff9200" fill-rule="evenodd"/>
<path d="M986.4,346.3 976.9,346.3 976.9,370.6 979.2,367.8 985.9,349.6Z" fill="#ff6100" fill-rule="evenodd"/>
<path d="M985.2,346.3 976.9,346.3 976.9,367.6 979.4,364.3 985.2,348.6Z" fill="#ff3100" fill-rule="evenodd"/>
<path d="M984.4,346.3 976.9,346.3 976.9,364.8 979.2,362.3Z" fill="#ff0000" fill-rule="evenodd"/>
<g fill="none" stroke="#000" stroke-width="0.45" stroke-opacity="0.55"><path d="M976.9,346.3 976.9,522.8 1012.4,522.8 1012.4,436.8 1013.4,433.3 1015.4,430.1 1018.7,427.3 1022.9,426.1 1025.7,426.3 1029.7,428.3 1033.2,432.6 1034.4,436.3 1034.4,522.8 1052.4,522.8 1052.4,346.3Z"/><path d="M976.9,346.3 976.9,522.8 1003.2,522.8 1003.4,433.1 1005.4,426.6 1008.4,421.6 1014.7,416.1 1022.7,413.6 1028.7,414.3 1035.7,417.8 1040.9,423.3 1044.4,430.6 1045.4,435.3 1045.4,522.8 1052.4,522.8 1052.4,346.3Z"/><path d="M1052.4,346.3 976.9,346.3 976.9,522.8 996.4,522.8 996.4,433.3 998.2,423.6 1002.9,413.3 1009.2,406.6 1015.9,402.6 1020.4,401.3 1027.2,401.3 1034.7,403.3 1042.9,408.3 1048.4,414.1 1052.4,420.8Z"/><path d="M1052.4,346.3 976.9,346.3 976.9,522.8 991.7,522.8 991.7,430.1 993.2,419.8 995.9,411.1 999.9,403.6 1005.9,396.6 1013.7,391.1 1020.4,388.8 1027.9,388.8 1037.2,391.1 1043.9,394.3 1052.4,401.1Z"/><path d="M1052.4,346.3 976.9,346.3 976.9,522.8 987.9,522.8 987.9,428.3 989.9,413.6 993.4,402.6 997.9,394.1 1002.7,387.8 1011.2,380.3 1018.4,376.8 1024.9,376.1 1035.4,377.6 1043.9,380.6 1052.4,385.6Z"/><path d="M1052.4,346.3 976.9,346.3 976.9,522.8 984.9,522.8 984.9,426.1 986.9,409.6 991.4,395.1 996.7,384.8 1002.7,376.6 1010.7,368.8 1017.4,364.8 1022.7,363.6 1034.2,364.6 1042.7,366.8 1052.4,371.3Z"/><path d="M1052.4,346.3 976.9,346.3 976.9,522.8 982.4,522.8 982.4,423.1 984.7,404.8 989.9,388.1 999.7,370.1 1005.4,362.6 1013.7,354.8 1020.9,351.3 1029.4,351.3 1041.7,353.6 1052.4,357.6Z"/><path d="M1010.2,346.3 976.9,346.3 976.9,522.8 980.4,522.8 980.2,422.1 981.9,404.8 986.7,387.3 992.2,374.3 1000.4,359.3Z"/><path d="M1002.4,346.3 976.9,346.3 976.9,522.8 978.2,522.8 978.2,437.1 977.4,423.1 979.7,404.3 982.7,391.1 987.4,377.6 994.4,361.8Z"/><path d="M997.9,346.3 976.9,346.3 976.9,403.1 978.9,398.3 983.7,380.8Z"/><path d="M994.7,346.3 976.9,346.3 976.9,393.6 978.7,390.8 982.9,377.1 994.4,348.6Z"/><path d="M992.4,346.3 976.9,346.3 976.9,386.8 978.9,384.1 992.2,348.6Z"/><path d="M990.4,346.3 976.9,346.3 976.9,381.8 978.9,379.3 990.2,349.1Z"/><path d="M988.9,346.3 976.9,346.3 976.9,377.6 979.2,374.6 988.2,350.3Z"/><path d="M987.7,346.3 976.9,346.3 976.9,373.8 979.4,370.3 986.9,350.1Z"/><path d="M986.4,346.3 976.9,346.3 976.9,370.6 979.2,367.8 985.9,349.6Z"/><path d="M985.2,346.3 976.9,346.3 976.9,367.6 979.4,364.3 985.2,348.6Z"/><path d="M984.4,346.3 976.9,346.3 976.9,364.8 979.2,362.3Z"/></g>
</g>
<rect x="967.8" y="348.2" width="82.8" height="172.8" fill="none" stroke="#000" stroke-opacity="0.4" stroke-width="0.5"/>
<clipPath id="cp5"><polygon points="409,242.6 453,254.78799999999998 453,510.188 409,498.0"/></clipPath><g clip-path="url(#cp5)">
<rect x="408" y="230" width="46" height="282" fill="#0030d0"/>
<path d="M406.1,228.1 406.1,491.6 422.4,498.6 431.1,501.4 441.1,503.6 449.6,504.1 455.9,505.4 455.9,228.1Z" fill="#0060e0" fill-rule="evenodd"/>
<path d="M406.1,228.1 406.1,485.9 410.6,487.6 420.4,494.1 428.6,497.4 439.4,499.9 448.6,499.1 455.9,499.6 455.9,228.1Z" fill="#0090e0" fill-rule="evenodd"/>
<path d="M406.1,228.1 406.1,478.9 410.1,481.4 417.9,489.1 424.6,493.1 435.9,496.4 442.9,496.6 452.1,492.9 455.9,492.6 455.9,228.1Z" fill="#00c0d8" fill-rule="evenodd"/>
<path d="M406.1,228.1 406.1,472.1 410.1,475.4 416.1,484.4 422.6,489.9 435.6,494.1 441.1,494.4 446.9,491.9 452.9,486.4 455.9,485.9 455.9,228.1Z" fill="#00c4b4" fill-rule="evenodd"/>
<path d="M406.1,228.1 406.1,463.1 410.4,467.1 415.6,479.6 420.9,486.1 429.1,490.1 436.1,491.9 440.6,491.9 444.1,490.4 446.4,488.1 452.4,477.9 455.9,476.9 455.9,228.1Z" fill="#00c890" fill-rule="evenodd"/>
<path d="M406.1,228.1 406.1,452.1 409.6,454.6 411.6,457.9 416.6,476.4 419.9,482.1 424.4,485.9 427.9,487.4 435.6,489.4 439.4,489.4 442.4,488.1 445.1,484.9 450.6,468.4 453.6,465.9 455.9,465.9 455.9,228.1Z" fill="#00d868" fill-rule="evenodd"/>
<path d="M406.1,228.1 406.1,434.9 410.9,438.4 413.6,443.6 416.4,454.9 418.9,472.6 420.9,478.4 423.1,481.1 427.1,483.6 436.9,485.9 440.4,484.6 442.6,481.1 446.1,460.6 448.9,452.4 451.4,449.4 455.9,448.6 455.9,228.1Z" fill="#00e040" fill-rule="evenodd"/>
<path d="M406.1,228.1 406.1,412.9 410.1,414.4 413.9,417.6 417.9,426.4 420.4,439.6 422.6,465.9 424.1,473.4 427.4,477.6 434.9,479.6 437.1,478.4 438.9,473.9 441.6,445.6 444.4,433.1 446.4,429.1 448.6,426.9 450.4,426.1 455.9,426.6 455.9,228.1Z" fill="#10e010" fill-rule="evenodd"/>
<path d="M406.1,228.1 406.1,381.6 455.9,395.4 455.9,228.1Z" fill="#38e000" fill-rule="evenodd"/>
<path d="M406.1,228.1 406.1,357.6 455.9,371.4 455.9,228.1Z" fill="#60e000" fill-rule="evenodd"/>
<path d="M406.1,228.1 406.1,336.6 455.9,350.4 455.9,228.1Z" fill="#88e000" fill-rule="evenodd"/>
<path d="M406.1,228.1 406.1,316.6 455.9,330.4 455.9,228.1Z" fill="#a8e000" fill-rule="evenodd"/>
<path d="M406.1,228.1 406.1,298.4 455.9,312.1 455.9,228.1Z" fill="#c8e000" fill-rule="evenodd"/>
<path d="M406.1,228.1 406.1,279.6 412.1,281.4 418.4,286.1 442.6,292.9 445.1,293.1 450.4,291.9 455.9,293.4 455.9,228.1Z" fill="#e0d400" fill-rule="evenodd"/>
<path d="M406.1,228.1 406.1,261.6 412.1,263.4 418.4,272.1 444.1,279.1 449.9,273.9 455.9,275.4 455.9,228.1Z" fill="#e8b400" fill-rule="evenodd"/>
<path d="M406.1,228.1 406.1,257.6 412.1,259.4 418.4,266.9 443.9,273.9 446.1,271.6 449.6,269.9 455.9,271.4 455.9,228.1Z" fill="#f08a00" fill-rule="evenodd"/>
<path d="M406.1,228.1 406.1,250.4 411.9,251.9 418.1,255.1 443.4,262.1 449.6,262.4 455.9,264.1 455.9,228.1Z" fill="#f05a00" fill-rule="evenodd"/>
<path d="M406.1,228.1 406.1,246.4 443.1,257.1 455.9,260.1 455.9,228.1Z" fill="#e03010" fill-rule="evenodd"/>
<g fill="none" stroke="#000" stroke-width="0.6" stroke-opacity="0.5"><path d="M406.1,228.1 406.1,491.6 422.4,498.6 431.1,501.4 441.1,503.6 449.6,504.1 455.9,505.4 455.9,228.1Z"/><path d="M406.1,228.1 406.1,485.9 410.6,487.6 420.4,494.1 428.6,497.4 439.4,499.9 448.6,499.1 455.9,499.6 455.9,228.1Z"/><path d="M406.1,228.1 406.1,478.9 410.1,481.4 417.9,489.1 424.6,493.1 435.9,496.4 442.9,496.6 452.1,492.9 455.9,492.6 455.9,228.1Z"/><path d="M406.1,228.1 406.1,472.1 410.1,475.4 416.1,484.4 422.6,489.9 435.6,494.1 441.1,494.4 446.9,491.9 452.9,486.4 455.9,485.9 455.9,228.1Z"/><path d="M406.1,228.1 406.1,463.1 410.4,467.1 415.6,479.6 420.9,486.1 429.1,490.1 436.1,491.9 440.6,491.9 444.1,490.4 446.4,488.1 452.4,477.9 455.9,476.9 455.9,228.1Z"/><path d="M406.1,228.1 406.1,452.1 409.6,454.6 411.6,457.9 416.6,476.4 419.9,482.1 424.4,485.9 427.9,487.4 435.6,489.4 439.4,489.4 442.4,488.1 445.1,484.9 450.6,468.4 453.6,465.9 455.9,465.9 455.9,228.1Z"/><path d="M406.1,228.1 406.1,434.9 410.9,438.4 413.6,443.6 416.4,454.9 418.9,472.6 420.9,478.4 423.1,481.1 427.1,483.6 436.9,485.9 440.4,484.6 442.6,481.1 446.1,460.6 448.9,452.4 451.4,449.4 455.9,448.6 455.9,228.1Z"/><path d="M406.1,228.1 406.1,412.9 410.1,414.4 413.9,417.6 417.9,426.4 420.4,439.6 422.6,465.9 424.1,473.4 427.4,477.6 434.9,479.6 437.1,478.4 438.9,473.9 441.6,445.6 444.4,433.1 446.4,429.1 448.6,426.9 450.4,426.1 455.9,426.6 455.9,228.1Z"/><path d="M406.1,228.1 406.1,381.6 455.9,395.4 455.9,228.1Z"/><path d="M406.1,228.1 406.1,357.6 455.9,371.4 455.9,228.1Z"/><path d="M406.1,228.1 406.1,336.6 455.9,350.4 455.9,228.1Z"/><path d="M406.1,228.1 406.1,316.6 455.9,330.4 455.9,228.1Z"/><path d="M406.1,228.1 406.1,298.4 455.9,312.1 455.9,228.1Z"/><path d="M406.1,228.1 406.1,279.6 412.1,281.4 418.4,286.1 442.6,292.9 445.1,293.1 450.4,291.9 455.9,293.4 455.9,228.1Z"/><path d="M406.1,228.1 406.1,261.6 412.1,263.4 418.4,272.1 444.1,279.1 449.9,273.9 455.9,275.4 455.9,228.1Z"/><path d="M406.1,228.1 406.1,257.6 412.1,259.4 418.4,266.9 443.9,273.9 446.1,271.6 449.6,269.9 455.9,271.4 455.9,228.1Z"/><path d="M406.1,228.1 406.1,250.4 411.9,251.9 418.1,255.1 443.4,262.1 449.6,262.4 455.9,264.1 455.9,228.1Z"/><path d="M406.1,228.1 406.1,246.4 443.1,257.1 455.9,260.1 455.9,228.1Z"/></g>
</g>
<polygon points="453,254.8 465.5,244.3 465.5,249.2 453,259.7" fill="#b3260d"/>
<polygon points="453,259.4 465.5,248.9 465.5,253.3 453,263.8" fill="#c04800"/>
<polygon points="453,263.5 465.5,253.0 465.5,260.6 453,271.1" fill="#c06e00"/>
<polygon points="453,270.8 465.5,260.3 465.5,264.6 453,275.1" fill="#ba9000"/>
<polygon points="453,274.8 465.5,264.3 465.5,282.6 453,293.1" fill="#b3aa00"/>
<polygon points="453,292.8 465.5,282.3 465.5,301.3 453,311.8" fill="#a0b300"/>
<polygon points="453,311.5 465.5,301.0 465.5,319.6 453,330.1" fill="#86b300"/>
<polygon points="453,329.8 465.5,319.3 465.5,339.6 453,350.1" fill="#6db300"/>
<polygon points="453,349.8 465.5,339.3 465.5,360.6 453,371.1" fill="#4db300"/>
<polygon points="453,370.8 465.5,360.3 465.5,384.6 453,395.1" fill="#2db300"/>
<polygon points="453,394.8 465.5,384.3 465.5,415.6 453,426.1" fill="#0db30d"/>
<polygon points="453,425.8 465.5,415.3 465.5,437.6 453,448.1" fill="#00b333"/>
<polygon points="453,447.8 465.5,437.3 465.5,454.6 453,465.1" fill="#00ad53"/>
<polygon points="453,464.8 465.5,454.3 465.5,465.6 453,476.1" fill="#00a073"/>
<polygon points="453,475.8 465.5,465.3 465.5,474.6 453,485.1" fill="#009d90"/>
<polygon points="453,484.8 465.5,474.3 465.5,481.6 453,492.1" fill="#009aad"/>
<polygon points="453,491.8 465.5,481.3 465.5,488.6 453,499.1" fill="#0073b3"/>
<polygon points="453,498.8 465.5,488.3 465.5,494.6 453,505.1" fill="#004db3"/>
<polygon points="453,504.8 465.5,494.3 465.5,500.0 453,510.5" fill="#0026a6"/>
<path d="M453,259.4 L465.5,248.9 M453,263.5 L465.5,253.0 M453,270.8 L465.5,260.3 M453,274.8 L465.5,264.3 M453,292.8 L465.5,282.3 M453,311.5 L465.5,301.0 M453,329.8 L465.5,319.3 M453,349.8 L465.5,339.3 M453,370.8 L465.5,360.3 M453,394.8 L465.5,384.3 M453,425.8 L465.5,415.3 M453,447.8 L465.5,437.3 M453,464.8 L465.5,454.3 M453,475.8 L465.5,465.3 M453,484.8 L465.5,474.3 M453,491.8 L465.5,481.3 M453,498.8 L465.5,488.3 M453,504.8 L465.5,494.3" fill="none" stroke="#202020" stroke-opacity="0.5" stroke-width="0.6"/>
<polygon points="409,242.6 421.2,231.6 465.5,244.3 453,254.8" fill="#b42408" stroke="#3a1a10" stroke-opacity="0.6" stroke-width="0.6"/>
<line x1="437" y1="238" x2="429" y2="248" stroke="#602010" stroke-opacity="0.5" stroke-width="0.5"/>
<g fill="none" stroke="#707850" stroke-opacity="0.45"><path d="M414,268 L414,455" stroke-width="1.6"/><path d="M449.5,272 L449.5,470" stroke-width="1.6"/><path d="M419.5,272 L419.5,462 Q420,481 431,482 Q442,482 442.5,466 L442.5,276" stroke-width="2"/></g>
<polygon points="409,242.6 421.2,231.6 465.5,244.3 465.5,500 453,510 409,498" fill="none" stroke="#222" stroke-opacity="0.6" stroke-width="0.6"/>
<line x1="453" y1="254.8" x2="453" y2="510" stroke="#222" stroke-opacity="0.4" stroke-width="0.5"/>
<defs><linearGradient id="cylg" x1="0" x2="1" y1="0" y2="0"><stop offset="0" stop-color="#000" stop-opacity="0.30"/><stop offset="0.18" stop-color="#000" stop-opacity="0.05"/><stop offset="0.45" stop-color="#fff" stop-opacity="0.08"/><stop offset="0.8" stop-color="#000" stop-opacity="0.06"/><stop offset="1" stop-color="#000" stop-opacity="0.35"/></linearGradient></defs>
<polygon points="509.1,241.3 601.9,290.6 601.9,375.8 509.1,327.1" fill="#a87c88"/>
<polygon points="601.9,290.6 725.7,232.2 725.7,319.5 601.9,375.8" fill="#a27c8a"/>
<rect x="517.0" y="250.1" width="10.6" height="75.0" rx="5.3" ry="2.2" fill="#e67200"/>
<rect x="517.0" y="297.0" width="10.6" height="28.1" rx="5.3" ry="2.2" fill="#e03a04"/>
<rect x="517.0" y="250.1" width="10.6" height="75.0" rx="5.3" ry="2.2" fill="url(#cylg)"/>
<rect x="527.6" y="255.8" width="10.6" height="75.0" rx="5.3" ry="2.2" fill="#e67200"/>
<rect x="527.6" y="297.0" width="10.6" height="33.8" rx="5.3" ry="2.2" fill="#e03a04"/>
<rect x="527.6" y="255.8" width="10.6" height="75.0" rx="5.3" ry="2.2" fill="url(#cylg)"/>
<rect x="538.2" y="261.4" width="10.6" height="75.0" rx="5.3" ry="2.2" fill="#e67200"/>
<rect x="538.2" y="297.0" width="10.6" height="39.4" rx="5.3" ry="2.2" fill="#e03a04"/>
<rect x="538.2" y="261.4" width="10.6" height="75.0" rx="5.3" ry="2.2" fill="url(#cylg)"/>
<rect x="548.8" y="267.0" width="10.6" height="75.0" rx="5.3" ry="2.2" fill="#e67200"/>
<rect x="548.8" y="297.0" width="10.6" height="45.0" rx="5.3" ry="2.2" fill="#e03a04"/>
<rect x="548.8" y="267.0" width="10.6" height="75.0" rx="5.3" ry="2.2" fill="url(#cylg)"/>
<rect x="559.4" y="272.7" width="10.6" height="75.0" rx="5.3" ry="2.2" fill="#e67200"/>
<rect x="559.4" y="297.0" width="10.6" height="50.7" rx="5.3" ry="2.2" fill="#e03a04"/>
<rect x="559.4" y="272.7" width="10.6" height="75.0" rx="5.3" ry="2.2" fill="url(#cylg)"/>
<rect x="570.1" y="278.3" width="10.6" height="75.0" rx="5.3" ry="2.2" fill="#e67200"/>
<rect x="570.1" y="300.5" width="10.6" height="52.8" rx="5.3" ry="2.2" fill="#e03a04"/>
<rect x="570.1" y="278.3" width="10.6" height="75.0" rx="5.3" ry="2.2" fill="url(#cylg)"/>
<rect x="580.7" y="284.0" width="10.6" height="75.0" rx="5.3" ry="2.2" fill="#e67200"/>
<rect x="580.7" y="307.5" width="10.6" height="51.4" rx="5.3" ry="2.2" fill="#e03a04"/>
<rect x="580.7" y="284.0" width="10.6" height="75.0" rx="5.3" ry="2.2" fill="url(#cylg)"/>
<rect x="591.3" y="289.6" width="10.6" height="75.0" rx="5.3" ry="2.2" fill="#e67200"/>
<rect x="591.3" y="314.5" width="10.6" height="50.1" rx="5.3" ry="2.2" fill="#e03a04"/>
<rect x="591.3" y="289.6" width="10.6" height="75.0" rx="5.3" ry="2.2" fill="url(#cylg)"/>
<rect x="601.9" y="289.6" width="10.1" height="74.0" rx="5.1" ry="2.2" fill="#e67200"/>
<rect x="601.9" y="316.1" width="10.1" height="47.5" rx="5.1" ry="2.2" fill="#e03a04"/>
<rect x="601.9" y="289.6" width="10.1" height="74.0" rx="5.1" ry="2.2" fill="url(#cylg)"/>
<rect x="612.0" y="284.8" width="10.1" height="74.0" rx="5.1" ry="2.2" fill="#e67200"/>
<rect x="612.0" y="312.3" width="10.1" height="46.5" rx="5.1" ry="2.2" fill="#e03a04"/>
<rect x="612.0" y="284.8" width="10.1" height="74.0" rx="5.1" ry="2.2" fill="url(#cylg)"/>
<rect x="622.2" y="280.0" width="10.1" height="74.0" rx="5.1" ry="2.2" fill="#e67200"/>
<rect x="622.2" y="308.6" width="10.1" height="45.5" rx="5.1" ry="2.2" fill="#e03a04"/>
<rect x="622.2" y="280.0" width="10.1" height="74.0" rx="5.1" ry="2.2" fill="url(#cylg)"/>
<rect x="632.3" y="275.3" width="10.1" height="74.0" rx="5.1" ry="2.2" fill="#e67200"/>
<rect x="632.3" y="304.8" width="10.1" height="44.5" rx="5.1" ry="2.2" fill="#e03a04"/>
<rect x="632.3" y="275.3" width="10.1" height="74.0" rx="5.1" ry="2.2" fill="url(#cylg)"/>
<rect x="642.4" y="270.5" width="10.1" height="74.0" rx="5.1" ry="2.2" fill="#e67200"/>
<rect x="642.4" y="301.0" width="10.1" height="43.5" rx="5.1" ry="2.2" fill="#e03a04"/>
<rect x="642.4" y="270.5" width="10.1" height="74.0" rx="5.1" ry="2.2" fill="url(#cylg)"/>
<rect x="652.5" y="265.7" width="10.1" height="74.0" rx="5.1" ry="2.2" fill="#e67200"/>
<rect x="652.5" y="297.3" width="10.1" height="42.4" rx="5.1" ry="2.2" fill="#e03a04"/>
<rect x="652.5" y="265.7" width="10.1" height="74.0" rx="5.1" ry="2.2" fill="url(#cylg)"/>
<rect x="662.7" y="260.9" width="10.1" height="74.0" rx="5.1" ry="2.2" fill="#e67200"/>
<rect x="662.7" y="293.5" width="10.1" height="41.4" rx="5.1" ry="2.2" fill="#e03a04"/>
<rect x="662.7" y="260.9" width="10.1" height="74.0" rx="5.1" ry="2.2" fill="url(#cylg)"/>
<rect x="672.8" y="256.2" width="10.1" height="74.0" rx="5.1" ry="2.2" fill="#e67200"/>
<rect x="672.8" y="289.7" width="10.1" height="40.4" rx="5.1" ry="2.2" fill="#e03a04"/>
<rect x="672.8" y="256.2" width="10.1" height="74.0" rx="5.1" ry="2.2" fill="url(#cylg)"/>
<rect x="682.9" y="251.4" width="10.1" height="74.0" rx="5.1" ry="2.2" fill="#e67200"/>
<rect x="682.9" y="291.6" width="10.1" height="33.7" rx="5.1" ry="2.2" fill="#e03a04"/>
<rect x="682.9" y="251.4" width="10.1" height="74.0" rx="5.1" ry="2.2" fill="url(#cylg)"/>
<rect x="693.1" y="246.6" width="10.1" height="74.0" rx="5.1" ry="2.2" fill="#e67200"/>
<rect x="693.1" y="317.3" width="10.1" height="3.3" rx="5.1" ry="2.2" fill="#e03a04"/>
<rect x="693.1" y="246.6" width="10.1" height="74.0" rx="5.1" ry="2.2" fill="url(#cylg)"/>
<rect x="703.2" y="241.8" width="10.1" height="74.0" rx="5.1" ry="2.2" fill="#e67200"/>
<rect x="703.2" y="367.6" width="10.1" height="0.0" rx="5.1" ry="2.2" fill="#e03a04"/>
<rect x="703.2" y="241.8" width="10.1" height="74.0" rx="5.1" ry="2.2" fill="url(#cylg)"/>
<polygon points="698.5,245.0 725.7,232.2 713.7,256.2 698.5,257.0" fill="#f0c000" fill-opacity="0.35"/>
<polygon points="509.1,241.3 536.9,256.1 536.9,266.1 509.1,251.3" fill="#f0c000" fill-opacity="0.3"/>
<polygon points="509.1,241.3 601.9,290.6 601.9,375.8 509.1,327.1" fill="#b08898" fill-opacity="0.12"/>
<polygon points="601.9,290.6 725.7,232.2 725.7,319.5 601.9,375.8" fill="#b08898" fill-opacity="0.12"/>
<polygon points="632.3,184.1 725.7,232.2 601.9,290.6 509.1,241.3" fill="#2ea2a6"/>
<clipPath id="topclip"><polygon points="632.3,184.1 725.7,232.2 601.9,290.6 509.1,241.3"/></clipPath>
<g clip-path="url(#topclip)" fill="#3aac84" fill-opacity="0.7" stroke="#2a9070" stroke-opacity="0.35" stroke-width="0.5"><ellipse cx="628.7" cy="189.6" rx="6.2" ry="3.8"/><ellipse cx="618.9" cy="198.0" rx="6.2" ry="3.8"/><ellipse cx="601.3" cy="202.3" rx="6.2" ry="3.8"/><ellipse cx="591.5" cy="210.7" rx="6.2" ry="3.8"/><ellipse cx="573.9" cy="215.0" rx="6.2" ry="3.8"/><ellipse cx="564.1" cy="223.4" rx="6.2" ry="3.8"/><ellipse cx="546.5" cy="227.7" rx="6.2" ry="3.8"/><ellipse cx="536.7" cy="236.1" rx="6.2" ry="3.8"/><ellipse cx="519.2" cy="240.4" rx="6.2" ry="3.8"/><ellipse cx="636.4" cy="193.6" rx="6.2" ry="3.8"/><ellipse cx="626.6" cy="202.0" rx="6.2" ry="3.8"/><ellipse cx="609.1" cy="206.3" rx="6.2" ry="3.8"/><ellipse cx="599.3" cy="214.7" rx="6.2" ry="3.8"/><ellipse cx="581.7" cy="219.0" rx="6.2" ry="3.8"/><ellipse cx="571.9" cy="227.4" rx="6.2" ry="3.8"/><ellipse cx="554.3" cy="231.7" rx="6.2" ry="3.8"/><ellipse cx="544.5" cy="240.1" rx="6.2" ry="3.8"/><ellipse cx="526.9" cy="244.5" rx="6.2" ry="3.8"/><ellipse cx="644.2" cy="197.6" rx="6.2" ry="3.8"/><ellipse cx="634.4" cy="206.0" rx="6.2" ry="3.8"/><ellipse cx="616.9" cy="210.3" rx="6.2" ry="3.8"/><ellipse cx="607.1" cy="218.7" rx="6.2" ry="3.8"/><ellipse cx="589.5" cy="223.0" rx="6.2" ry="3.8"/><ellipse cx="579.7" cy="231.4" rx="6.2" ry="3.8"/><ellipse cx="562.1" cy="235.7" rx="6.2" ry="3.8"/><ellipse cx="552.3" cy="244.1" rx="6.2" ry="3.8"/><ellipse cx="534.7" cy="248.5" rx="6.2" ry="3.8"/><ellipse cx="652.0" cy="201.6" rx="6.2" ry="3.8"/><ellipse cx="642.2" cy="210.0" rx="6.2" ry="3.8"/><ellipse cx="624.6" cy="214.3" rx="6.2" ry="3.8"/><ellipse cx="614.8" cy="222.7" rx="6.2" ry="3.8"/><ellipse cx="597.3" cy="227.0" rx="6.2" ry="3.8"/><ellipse cx="587.5" cy="235.4" rx="6.2" ry="3.8"/><ellipse cx="569.9" cy="239.8" rx="6.2" ry="3.8"/><ellipse cx="560.1" cy="248.1" rx="6.2" ry="3.8"/><ellipse cx="542.5" cy="252.5" rx="6.2" ry="3.8"/><ellipse cx="659.8" cy="205.6" rx="6.2" ry="3.8"/><ellipse cx="650.0" cy="214.0" rx="6.2" ry="3.8"/><ellipse cx="632.4" cy="218.3" rx="6.2" ry="3.8"/><ellipse cx="622.6" cy="226.7" rx="6.2" ry="3.8"/><ellipse cx="605.0" cy="231.1" rx="6.2" ry="3.8"/><ellipse cx="595.2" cy="239.4" rx="6.2" ry="3.8"/><ellipse cx="577.7" cy="243.8" rx="6.2" ry="3.8"/><ellipse cx="567.9" cy="252.1" rx="6.2" ry="3.8"/><ellipse cx="550.3" cy="256.5" rx="6.2" ry="3.8"/><ellipse cx="667.6" cy="209.6" rx="6.2" ry="3.8"/><ellipse cx="657.8" cy="218.0" rx="6.2" ry="3.8"/><ellipse cx="640.2" cy="222.4" rx="6.2" ry="3.8"/><ellipse cx="630.4" cy="230.7" rx="6.2" ry="3.8"/><ellipse cx="612.8" cy="235.1" rx="6.2" ry="3.8"/><ellipse cx="603.0" cy="243.4" rx="6.2" ry="3.8"/><ellipse cx="585.4" cy="247.8" rx="6.2" ry="3.8"/><ellipse cx="575.6" cy="256.1" rx="6.2" ry="3.8"/><ellipse cx="558.1" cy="260.5" rx="6.2" ry="3.8"/><ellipse cx="675.4" cy="213.6" rx="6.2" ry="3.8"/><ellipse cx="665.6" cy="222.0" rx="6.2" ry="3.8"/><ellipse cx="648.0" cy="226.4" rx="6.2" ry="3.8"/><ellipse cx="638.2" cy="234.7" rx="6.2" ry="3.8"/><ellipse cx="620.6" cy="239.1" rx="6.2" ry="3.8"/><ellipse cx="610.8" cy="247.4" rx="6.2" ry="3.8"/><ellipse cx="593.2" cy="251.8" rx="6.2" ry="3.8"/><ellipse cx="583.4" cy="260.1" rx="6.2" ry="3.8"/><ellipse cx="565.9" cy="264.5" rx="6.2" ry="3.8"/><ellipse cx="683.1" cy="217.7" rx="6.2" ry="3.8"/><ellipse cx="673.3" cy="226.0" rx="6.2" ry="3.8"/><ellipse cx="655.8" cy="230.4" rx="6.2" ry="3.8"/><ellipse cx="646.0" cy="238.7" rx="6.2" ry="3.8"/><ellipse cx="628.4" cy="243.1" rx="6.2" ry="3.8"/><ellipse cx="618.6" cy="251.4" rx="6.2" ry="3.8"/><ellipse cx="601.0" cy="255.8" rx="6.2" ry="3.8"/><ellipse cx="591.2" cy="264.2" rx="6.2" ry="3.8"/><ellipse cx="573.6" cy="268.5" rx="6.2" ry="3.8"/><ellipse cx="690.9" cy="221.7" rx="6.2" ry="3.8"/><ellipse cx="681.1" cy="230.0" rx="6.2" ry="3.8"/><ellipse cx="663.6" cy="234.4" rx="6.2" ry="3.8"/><ellipse cx="653.8" cy="242.7" rx="6.2" ry="3.8"/><ellipse cx="636.2" cy="247.1" rx="6.2" ry="3.8"/><ellipse cx="626.4" cy="255.4" rx="6.2" ry="3.8"/><ellipse cx="608.8" cy="259.8" rx="6.2" ry="3.8"/><ellipse cx="599.0" cy="268.2" rx="6.2" ry="3.8"/><ellipse cx="581.4" cy="272.5" rx="6.2" ry="3.8"/><ellipse cx="698.7" cy="225.7" rx="6.2" ry="3.8"/><ellipse cx="688.9" cy="234.0" rx="6.2" ry="3.8"/><ellipse cx="671.3" cy="238.4" rx="6.2" ry="3.8"/><ellipse cx="661.5" cy="246.7" rx="6.2" ry="3.8"/><ellipse cx="644.0" cy="251.1" rx="6.2" ry="3.8"/><ellipse cx="634.2" cy="259.5" rx="6.2" ry="3.8"/><ellipse cx="616.6" cy="263.8" rx="6.2" ry="3.8"/><ellipse cx="606.8" cy="272.2" rx="6.2" ry="3.8"/><ellipse cx="589.2" cy="276.5" rx="6.2" ry="3.8"/><ellipse cx="706.5" cy="229.7" rx="6.2" ry="3.8"/><ellipse cx="696.7" cy="238.0" rx="6.2" ry="3.8"/><ellipse cx="679.1" cy="242.4" rx="6.2" ry="3.8"/><ellipse cx="669.3" cy="250.8" rx="6.2" ry="3.8"/><ellipse cx="651.7" cy="255.1" rx="6.2" ry="3.8"/><ellipse cx="641.9" cy="263.5" rx="6.2" ry="3.8"/><ellipse cx="624.4" cy="267.8" rx="6.2" ry="3.8"/><ellipse cx="614.6" cy="276.2" rx="6.2" ry="3.8"/><ellipse cx="597.0" cy="280.5" rx="6.2" ry="3.8"/><ellipse cx="714.3" cy="233.7" rx="6.2" ry="3.8"/><ellipse cx="704.5" cy="242.1" rx="6.2" ry="3.8"/><ellipse cx="686.9" cy="246.4" rx="6.2" ry="3.8"/><ellipse cx="677.1" cy="254.8" rx="6.2" ry="3.8"/><ellipse cx="659.5" cy="259.1" rx="6.2" ry="3.8"/><ellipse cx="649.7" cy="267.5" rx="6.2" ry="3.8"/><ellipse cx="632.1" cy="271.8" rx="6.2" ry="3.8"/><ellipse cx="622.3" cy="280.2" rx="6.2" ry="3.8"/><ellipse cx="604.8" cy="284.5" rx="6.2" ry="3.8"/></g>
<polygon points="632.3,184.1 725.7,232.2 601.9,290.6 509.1,241.3" fill="none" stroke="#30b8c8" stroke-width="3" stroke-opacity="0.45"/>
<polyline points="512.1,325.1 601.9,371.8 722.7,317.5 722.7,234.2" fill="none" stroke="#50b080" stroke-width="1.6" stroke-opacity="0.7"/>
<polyline points="512.1,243.3 512.1,325.1" fill="none" stroke="#50b080" stroke-width="1.6" stroke-opacity="0.7"/>
<polyline points="509.1,241.3 509.1,327.1 601.9,375.8 725.7,319.5 725.7,232.2" fill="none" stroke="#2a60d0" stroke-width="1.6"/>
<polyline points="509.1,241.3 632.3,184.1 725.7,232.2" fill="none" stroke="#1a36c8" stroke-width="3.4" stroke-linejoin="round"/>
<line x1="725.7" y1="232.2" x2="725.7" y2="319.5" stroke="#1a40d0" stroke-width="2"/>
<polyline points="509.1,241.3 601.9,290.6 725.7,232.2" fill="none" stroke="#f0b020" stroke-width="1" stroke-opacity="0.45"/>
<rect x="504.6" y="406.5" width="198.4" height="116.1" fill="#0000ff"/>
<rect x="504.6" y="407.5" width="190.4" height="107.1" fill="#00e8a0"/>
<rect x="504.6" y="408.5" width="189" height="105" rx="4" fill="#40f000"/>
<path d="M504.6,514 L504.6,409.0 L650,409.0 L694,409.5 L694.5,514 Z" fill="#60f000" stroke="#60f000" stroke-width="1.2" stroke-linejoin="round"/>
<path d="M504.6,513 L504.6,411.5 L640,411.5 L668,413 L686,428 L692,445 L693,513 Z" fill="#c0ff00" stroke="#c0ff00" stroke-width="1.2" stroke-linejoin="round"/>
<path d="M504.6,512 L504.6,425.4 L635,425.4 L670,432.6 L688,452 L691,470 L691.5,512 Z" fill="#ffff00" stroke="#ffff00" stroke-width="1.2" stroke-linejoin="round"/>
<path d="M504.6,511 L504.6,436 L635,437 L670,444.4 L684,461.6 L686,480 L686.5,511 Z" fill="#ffc000" stroke="#ffc000" stroke-width="1.2" stroke-linejoin="round"/>
<path d="M504.6,510 L504.6,450.8 L617,450.8 L635,454.4 L651.6,467 L667,479 L670,492 L670,510 Z" fill="#ff8c00" stroke="#ff8c00" stroke-width="1.2" stroke-linejoin="round"/>
<path d="M504.6,509.3 L504.6,471.6 L615,471.6 L628,474 L633,481 L634,509.3 Z" fill="#ff4800" stroke="#ff4800" stroke-width="1.2" stroke-linejoin="round"/>
<path d="M504.6,509.5 L680,509.5" stroke="#ff8000" stroke-width="1"/>
<g stroke="#604020" stroke-opacity="0.38" stroke-width="0.8"><line x1="522" x2="522" y1="411" y2="510"/><line x1="525.5" x2="525.5" y1="411" y2="510"/><line x1="537" x2="537" y1="411" y2="510"/><line x1="540.3" x2="540.3" y1="411" y2="510"/><line x1="555" x2="555" y1="411" y2="510"/><line x1="558.3" x2="558.3" y1="411" y2="510"/><line x1="576" x2="576" y1="411" y2="510"/><line x1="579.4" x2="579.4" y1="411" y2="510"/><line x1="598" x2="598" y1="411" y2="510"/><line x1="601.3" x2="601.3" y1="411" y2="510"/><line x1="617.4" x2="617.4" y1="411" y2="510"/><line x1="618.5" x2="618.5" y1="411" y2="510"/><line x1="636.2" x2="636.2" y1="411" y2="510"/><line x1="637.4" x2="637.4" y1="411" y2="510"/><line x1="654.8" x2="654.8" y1="411" y2="510"/><line x1="657" x2="657" y1="411" y2="510"/><line x1="672" x2="672" y1="411" y2="510"/><line x1="674.4" x2="674.4" y1="411" y2="510"/><line x1="687" x2="687" y1="411" y2="510"/></g>
<g fill="none" stroke="#303030" stroke-opacity="0.25" stroke-width="0.5"><path d="M504.6,425.4 L635,425.4 L670,432.6 L688,452 L691,470"/><path d="M504.6,436 L635,437 L670,444.4 L684,461.6 L686,480"/><path d="M504.6,450.8 L617,450.8 L635,454.4 L651.6,467 L667,479 L670,492"/><path d="M504.6,471.6 L615,471.6 L628,474 L633,481"/></g>
<text x="718" y="400" font-family="Liberation Sans" font-size="5.6" fill="#222" textLength="33" lengthAdjust="spacingAndGlyphs">Temperature</text>
<rect x="718.6" y="403.70" width="8.9" height="2.60" fill="#ff0000"/>
<rect x="718.6" y="406.10" width="8.9" height="6.83" fill="#ff3c00"/>
<rect x="718.6" y="412.73" width="8.9" height="6.83" fill="#ff7800"/>
<rect x="718.6" y="419.36" width="8.9" height="6.83" fill="#ffb400"/>
<rect x="718.6" y="425.99" width="8.9" height="6.83" fill="#fff000"/>
<rect x="718.6" y="432.62" width="8.9" height="6.83" fill="#d2ff00"/>
<rect x="718.6" y="439.26" width="8.9" height="6.83" fill="#96ff00"/>
<rect x="718.6" y="445.89" width="8.9" height="6.83" fill="#5aff00"/>
<rect x="718.6" y="452.52" width="8.9" height="6.83" fill="#1eff00"/>
<rect x="718.6" y="459.15" width="8.9" height="6.83" fill="#00ff1e"/>
<rect x="718.6" y="465.78" width="8.9" height="6.83" fill="#00ff5a"/>
<rect x="718.6" y="472.41" width="8.9" height="6.83" fill="#00ff96"/>
<rect x="718.6" y="479.04" width="8.9" height="6.83" fill="#00ffd2"/>
<rect x="718.6" y="485.68" width="8.9" height="6.83" fill="#00f0ff"/>
<rect x="718.6" y="492.31" width="8.9" height="6.83" fill="#00b4ff"/>
<rect x="718.6" y="498.94" width="8.9" height="6.83" fill="#0078ff"/>
<rect x="718.6" y="505.57" width="8.9" height="6.83" fill="#003cff"/>
<rect x="718.6" y="512.20" width="8.9" height="4.90" fill="#0000ff"/>
<g stroke="#000" stroke-opacity="0.45" stroke-width="0.4"><line x1="718.6" x2="727.5" y1="406.10" y2="406.10"/><line x1="718.6" x2="727.5" y1="412.73" y2="412.73"/><line x1="718.6" x2="727.5" y1="419.36" y2="419.36"/><line x1="718.6" x2="727.5" y1="425.99" y2="425.99"/><line x1="718.6" x2="727.5" y1="432.62" y2="432.62"/><line x1="718.6" x2="727.5" y1="439.26" y2="439.26"/><line x1="718.6" x2="727.5" y1="445.89" y2="445.89"/><line x1="718.6" x2="727.5" y1="452.52" y2="452.52"/><line x1="718.6" x2="727.5" y1="459.15" y2="459.15"/><line x1="718.6" x2="727.5" y1="465.78" y2="465.78"/><line x1="718.6" x2="727.5" y1="472.41" y2="472.41"/><line x1="718.6" x2="727.5" y1="479.04" y2="479.04"/><line x1="718.6" x2="727.5" y1="485.68" y2="485.68"/><line x1="718.6" x2="727.5" y1="492.31" y2="492.31"/><line x1="718.6" x2="727.5" y1="498.94" y2="498.94"/><line x1="718.6" x2="727.5" y1="505.57" y2="505.57"/><line x1="718.6" x2="727.5" y1="512.20" y2="512.20"/></g>
<rect x="718.6" y="403.7" width="8.9" height="113.2" fill="none" stroke="#000" stroke-opacity="0.5" stroke-width="0.5"/>
<text x="731.6" y="409.49" font-family="Liberation Sans" font-size="5.8" font-weight="normal" font-style="normal" fill="#222" text-anchor="start" >330</text>
<text x="731.6" y="416.12" font-family="Liberation Sans" font-size="5.8" font-weight="normal" font-style="normal" fill="#222" text-anchor="start" >325</text>
<text x="731.6" y="422.75" font-family="Liberation Sans" font-size="5.8" font-weight="normal" font-style="normal" fill="#222" text-anchor="start" >320</text>
<text x="731.6" y="429.38" font-family="Liberation Sans" font-size="5.8" font-weight="normal" font-style="normal" fill="#222" text-anchor="start" >315</text>
<text x="731.6" y="436.01" font-family="Liberation Sans" font-size="5.8" font-weight="normal" font-style="normal" fill="#222" text-anchor="start" >310</text>
<text x="731.6" y="442.64" font-family="Liberation Sans" font-size="5.8" font-weight="normal" font-style="normal" fill="#222" text-anchor="start" >305</text>
<text x="731.6" y="449.28" font-family="Liberation Sans" font-size="5.8" font-weight="normal" font-style="normal" fill="#222" text-anchor="start" >300</text>
<text x="731.6" y="455.91" font-family="Liberation Sans" font-size="5.8" font-weight="normal" font-style="normal" fill="#222" text-anchor="start" >295</text>
<text x="731.6" y="462.54" font-family="Liberation Sans" font-size="5.8" font-weight="normal" font-style="normal" fill="#222" text-anchor="start" >290</text>
<text x="731.6" y="469.17" font-family="Liberation Sans" font-size="5.8" font-weight="normal" font-style="normal" fill="#222" text-anchor="start" >285</text>
<text x="731.6" y="475.8" font-family="Liberation Sans" font-size="5.8" font-weight="normal" font-style="normal" fill="#222" text-anchor="start" >280</text>
<text x="731.6" y="482.43" font-family="Liberation Sans" font-size="5.8" font-weight="normal" font-style="normal" fill="#222" text-anchor="start" >275</text>
<text x="731.6" y="489.06" font-family="Liberation Sans" font-size="5.8" font-weight="normal" font-style="normal" fill="#222" text-anchor="start" >270</text>
<text x="731.6" y="495.69" font-family="Liberation Sans" font-size="5.8" font-weight="normal" font-style="normal" fill="#222" text-anchor="start" >265</text>
<text x="731.6" y="502.33" font-family="Liberation Sans" font-size="5.8" font-weight="normal" font-style="normal" fill="#222" text-anchor="start" >260</text>
<text x="731.6" y="508.96" font-family="Liberation Sans" font-size="5.8" font-weight="normal" font-style="normal" fill="#222" text-anchor="start" >255</text>
<text x="731.6" y="515.59" font-family="Liberation Sans" font-size="5.8" font-weight="normal" font-style="normal" fill="#222" text-anchor="start" >250</text>
<defs>
<pattern id="hatch" width="2.2" height="2.2" patternUnits="userSpaceOnUse" patternTransform="rotate(45)"><rect width="2.2" height="2.2" fill="#ececec"/><line x1="0" y1="0" x2="0" y2="2.2" stroke="#a8a8a8" stroke-width="0.9"/></pattern>
<pattern id="hatch2" width="3" height="3" patternUnits="userSpaceOnUse" patternTransform="rotate(-30)"><rect width="3" height="3" fill="#eeeeee"/><line x1="0" y1="0" x2="0" y2="3" stroke="#b0b0b0" stroke-width="1"/></pattern>
</defs>
<path d="M118.2,186 L118.2,362 A49,26 0 0 0 216.2,362 L216.2,186" fill="#fff" stroke="#3c3c3c" stroke-width="1.1"/>
<path d="M118.2,186 A49,26 0 0 1 216.2,186" fill="none" stroke="#3c3c3c" stroke-width="1.6"/>
<path d="M120.3,189 A47,24.5 0 0 1 214.3,189" fill="none" stroke="#3c3c3c" stroke-width="0.7"/>
<path d="M123,197 A44.3,23 0 0 1 211.6,197" fill="none" stroke="#3c3c3c" stroke-width="0.7"/>
<path d="M126.2,214 L137,211 L137,340 A30,14 0 0 0 198,346 L203,340 L203,206 L214,206 L214,340 A47,24 0 0 1 126.2,350 Z" fill="url(#hatch)" stroke="#3c3c3c" stroke-width="0.8"/>
<path d="M126.2,200 L126.2,350 A46,26 0 0 0 214,346" fill="none" stroke="#3c3c3c" stroke-width="0.8"/>
<path d="M118.2,362 A49,26 0 0 0 216.2,362" fill="none" stroke="#3c3c3c" stroke-width="0.6"/>
<path d="M126.2,350 Q140,360 150,362 M127,352 A46,22 0 0 0 213,352" fill="none" stroke="#3c3c3c" stroke-width="0.7"/>
<path d="M137,331 A31,14.5 0 0 0 203,331 M139,318 A29,14.5 0 0 0 199,318 M142,306 A25.5,14 0 0 0 196,306 M145,296 A24.5,12.7 0 0 0 194,296" fill="none" stroke="#3c3c3c" stroke-width="0.9"/>
<path d="M137,336 L137,322 M199,336 L199,322" fill="none" stroke="#3c3c3c" stroke-width="0.7"/>
<rect x="137" y="206" width="8" height="116" fill="#f4f4f4" stroke="#3c3c3c" stroke-width="0.6"/>
<line x1="139.6" y1="207" x2="139.6" y2="318" stroke="#3c3c3c" stroke-width="0.5"/><line x1="142.4" y1="207" x2="142.4" y2="318" stroke="#3c3c3c" stroke-width="0.5"/>
<rect x="194" y="192" width="9" height="126" fill="#f4f4f4" stroke="#3c3c3c" stroke-width="0.6"/>
<line x1="196.6" y1="193" x2="196.6" y2="318" stroke="#3c3c3c" stroke-width="0.5"/><line x1="200.4" y1="193" x2="200.4" y2="318" stroke="#3c3c3c" stroke-width="0.5"/>
<path d="M145,216 A24.5,8 0 0 1 194,220 L194,285 A24.5,10 0 0 1 145,290 Z" fill="url(#hatch2)" stroke="#3c3c3c" stroke-width="0.6"/>
<path d="M145,216 A24.5,8 0 0 1 194,220 L194,234 L166.5,224 L145,232Z" fill="#fff" stroke="#3c3c3c" stroke-width="0.6"/>
<path d="M166.5,224 L166.5,284 M145,292 L166.5,283.5 L194,285" fill="none" stroke="#3c3c3c" stroke-width="0.5" stroke-dasharray="1.2,0.8"/>
<path d="M145,288 A24.5,8 0 0 0 194,288 L194,284 A24.5,9 0 0 1 145,292Z" fill="url(#hatch)" stroke="#3c3c3c" stroke-width="0.5"/>
<path d="M145,292 L145,300 A24.5,9 0 0 0 194,297 L194,285" fill="#fff" stroke="#3c3c3c" stroke-width="0.7"/>
<path d="M133.2,202.5 L166.8,185.7 L207.4,185.7 L207.4,192.1 L166.8,193.3 L133.2,209.5 Z" fill="#cfcfcf" stroke="#3c3c3c" stroke-width="0.6"/>
<path d="M166.8,185.7 L166.8,193.3" stroke="#3c3c3c" stroke-width="0.5"/>
<path d="M128,206 L137,206 L137,213 L128,216Z M203,192 L213,192 L213,200 L203,200Z" fill="#bdbdbd" stroke="#3c3c3c" stroke-width="0.5"/>
<path d="M156.4,185.5 L156.4,176 Q156.4,173 159.5,173 L175.5,173 Q178.4,173 178.4,176 L178.4,185" fill="#fff" stroke="#3c3c3c" stroke-width="0.7"/>
<ellipse cx="167.3" cy="179.6" rx="2.3" ry="1.1" fill="none" stroke="#3c3c3c" stroke-width="0.6"/>
<text x="239.2" y="171.0" font-family="Liberation Sans" font-size="9.2" font-weight="normal" font-style="normal" fill="#1a1a1a" text-anchor="start" >Terminal</text>
<text x="239.2" y="189.1" font-family="Liberation Sans" font-size="9.2" font-weight="normal" font-style="normal" fill="#1a1a1a" text-anchor="start" >Electrical insulation</text>
<text x="239.2" y="232.9" font-family="Liberation Sans" font-size="9.2" font-weight="normal" font-style="normal" fill="#1a1a1a" text-anchor="start" >Sodium chamber</text>
<text x="239.2" y="277.5" font-family="Liberation Sans" font-size="9.2" font-weight="normal" font-style="normal" fill="#1a1a1a" text-anchor="start" >Metal insert</text>
<text x="239.2" y="295.1" font-family="Liberation Sans" font-size="9.2" font-weight="normal" font-style="normal" fill="#1a1a1a" text-anchor="start" >Sodium electrode</text>
<text x="239.2" y="312.6" font-family="Liberation Sans" font-size="9.2" font-weight="normal" font-style="normal" fill="#1a1a1a" text-anchor="start" >Solid electrolyte</text>
<text x="239.2" y="339.4" font-family="Liberation Sans" font-size="9.2" font-weight="normal" font-style="normal" fill="#1a1a1a" text-anchor="start" >Sulfur electrode</text>
<text x="239.2" y="356.8" font-family="Liberation Sans" font-size="9.2" font-weight="normal" font-style="normal" fill="#1a1a1a" text-anchor="start" >Cell container</text>
<path d="M237,167.9 L226,167.9 L179,180 M237,186.0 L226,186.0 L210,196 M237,229.8 L226,229.8 L181,248 M237,274.4 L226,274.4 L194,316 M237,292.0 L226,292.0 L197,323 M237,309.5 L226,309.5 L201,336 M237,336.3 L226,336.3 L208,356 M237,353.7 L226,353.7 L201,372" fill="none" stroke="#8a8a8a" stroke-width="0.6"/>
<defs>
<linearGradient id="mtop" x1="0" y1="0" x2="1" y2="0.3"><stop offset="0" stop-color="#b8b8b8"/><stop offset="0.4" stop-color="#dcdcdc"/><stop offset="0.75" stop-color="#9a9a9a"/><stop offset="1" stop-color="#3a3a3a"/></linearGradient>
<linearGradient id="mleft" x1="0" y1="0" x2="1" y2="0"><stop offset="0" stop-color="#a4a4a4"/><stop offset="0.6" stop-color="#8a8a8a"/><stop offset="1" stop-color="#6a6a6a"/></linearGradient>
<linearGradient id="mright" x1="0" y1="0" x2="1" y2="0"><stop offset="0" stop-color="#6a6a6a"/><stop offset="0.55" stop-color="#a8a8a8"/><stop offset="1" stop-color="#6e6e6e"/></linearGradient>
<linearGradient id="mcells" x1="0" y1="0" x2="0" y2="1"><stop offset="0" stop-color="#bdbdbd"/><stop offset="1" stop-color="#8a8a8a"/></linearGradient>
</defs>
<polygon points="134.3,466 197.7,495 285.4,470.3 284.5,481 197.7,507 134.3,472" fill="#cdcdcd"/>
<polygon points="190,497 207,500 207,508 190,504" fill="#e6e6e6"/><polygon points="270,474 283,471 283,479 270,482" fill="#dedede"/>
<polygon points="134.3,463 197.7,490 285.4,466 285.4,471 197.7,497 134.3,468" fill="#505050"/>
<polygon points="137,463 147,467 147,472 137,468" fill="#333"/><polygon points="180,483 190,487 190,491 180,487" fill="#333"/>
<polygon points="130.7,441.3 197.7,453 197.7,490 134.3,463" fill="url(#mleft)"/>
<polygon points="197.7,453 286.9,444.4 285.4,466 197.7,490" fill="url(#mright)"/>
<polygon points="197.7,478 286,458 285.4,466 197.7,490" fill="#484848" fill-opacity="0.55"/>
<polygon points="130.7,441.3 205.4,432.2 286.9,444.4 197.7,453" fill="url(#mtop)"/>
<path d="M166,451 C172,462 178,478 184,486 L200,489 C215,481 236,466 258,449 L240,447 L174,448Z" fill="#8a8a8a"/>
<path d="M174,452 C182,468 192,484 200,487 C214,479 232,466 250,449 L246,447 L178,447Z" fill="url(#mcells)"/>
<path d="M176,445 L252,448 L246,453 L182,452Z" fill="#5a5a5a"/>
<g stroke="#f2f2f2" stroke-width="1.1" stroke-opacity="0.7"><line x1="188" y1="454.24" x2="188" y2="480.4"/><line x1="193" y1="454.39" x2="193" y2="481.9"/><line x1="198" y1="454.54" x2="198" y2="483.4"/><line x1="203" y1="454.69" x2="203" y2="483.1"/><line x1="208" y1="454.84" x2="208" y2="481.6"/><line x1="213" y1="454.99" x2="213" y2="480.1"/><line x1="218" y1="455.14" x2="218" y2="478.6"/><line x1="223" y1="455.29" x2="223" y2="477.1"/><line x1="228" y1="455.44" x2="228" y2="475.6"/><line x1="233" y1="455.59" x2="233" y2="474.1"/><line x1="238" y1="455.74" x2="238" y2="472.6"/><line x1="243" y1="455.89" x2="243" y2="471.1"/></g>
<path d="M166,451 C172,462 178,478 184,485" fill="none" stroke="#f4f4f4" stroke-width="1.3"/>
<path d="M174,452 C180,470 188,486 198,487 C214,484 236,466 252,449" fill="none" stroke="#f6f6f6" stroke-width="1.4"/>
<path d="M258,450 C246,458 236,472 238,481 C250,478 266,471 282,465" fill="none" stroke="#f0f0f0" stroke-width="1.2"/>
<path d="M258,451 C252,462 244,472 238,479 C252,476 266,470 281,464 L285,450Z" fill="#b4b4b4" fill-opacity="0.5"/>
<g stroke="#333" stroke-width="0.5" fill="none"><path d="M170,430 L170,461"/><path d="M212,422 L212,443"/><path d="M230,432 L230,447"/><path d="M282,430 L282,458"/><path d="M121,489 L138,471 M136,492 L181,488"/><path d="M211,448 L211,512"/><path d="M255,480 L255,505"/></g>
<g fill="#222"><circle cx="190" cy="463" r="1"/><circle cx="212" cy="445" r="1"/><circle cx="230" cy="448" r="1"/><circle cx="282" cy="458" r="1"/><circle cx="211" cy="462" r="1"/><circle cx="255" cy="480" r="1"/></g>
<text x="193" y="419.7" font-family="Liberation Sans" font-size="9" font-weight="normal" font-style="normal" fill="#2a2a2a" text-anchor="start" textLength="41.5" lengthAdjust="spacingAndGlyphs" >Dry Sand</text>
<text x="129.6" y="429.4" font-family="Liberation Sans" font-size="9" font-weight="normal" font-style="normal" fill="#2a2a2a" text-anchor="start" textLength="63" lengthAdjust="spacingAndGlyphs" >Electric Heater</text>
<text x="222.4" y="430.3" font-family="Liberation Sans" font-size="9" font-weight="normal" font-style="normal" fill="#2a2a2a" text-anchor="start" textLength="22" lengthAdjust="spacingAndGlyphs" >Fuse</text>
<text x="259.6" y="417.8" font-family="Liberation Sans" font-size="9" font-weight="normal" font-style="normal" fill="#2a2a2a" text-anchor="start" textLength="61" lengthAdjust="spacingAndGlyphs" >Heat Insulated</text>
<text x="264" y="429" font-family="Liberation Sans" font-size="9" font-weight="normal" font-style="normal" fill="#2a2a2a" text-anchor="start" textLength="77" lengthAdjust="spacingAndGlyphs" >Container (Upper)</text>
<text x="93.2" y="499" font-family="Liberation Sans" font-size="9" font-weight="normal" font-style="normal" fill="#2a2a2a" text-anchor="start" textLength="45" lengthAdjust="spacingAndGlyphs" >Main Pole</text>
<text x="202.5" y="522.5" font-family="Liberation Sans" font-size="9" font-weight="normal" font-style="normal" fill="#2a2a2a" text-anchor="start" textLength="17.5" lengthAdjust="spacingAndGlyphs" >Cell</text>
<text x="227.3" y="514" font-family="Liberation Sans" font-size="9" font-weight="normal" font-style="normal" fill="#2a2a2a" text-anchor="start" textLength="106" lengthAdjust="spacingAndGlyphs" >Heat Insulated Container</text>
<text x="301.7" y="525.8" font-family="Liberation Sans" font-size="9" font-weight="normal" font-style="normal" fill="#2a2a2a" text-anchor="start" textLength="32.3" lengthAdjust="spacingAndGlyphs" >(Lower)</text>
</svg></body></html>
